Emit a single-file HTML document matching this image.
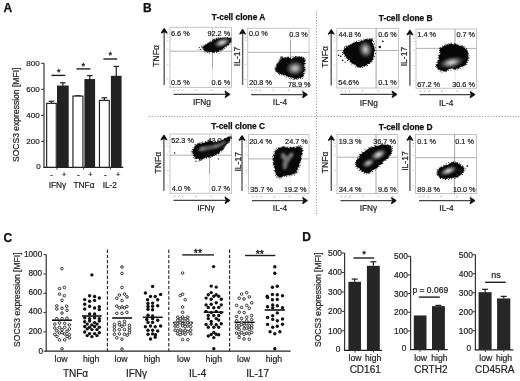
<!DOCTYPE html>
<html><head><meta charset="utf-8"><style>
html,body{margin:0;padding:0;background:#fff;}
body{width:520px;height:381px;overflow:hidden;}
svg{display:block;font-family:"Liberation Sans", sans-serif;filter:grayscale(1);}
</style></head><body>
<svg width="520" height="381" viewBox="0 0 520 381">
<defs><filter id="bl" x="-30%" y="-30%" width="160%" height="160%"><feGaussianBlur stdDeviation="0.9"/></filter><radialGradient id="core"><stop offset="0" stop-color="#cfcfcf"/><stop offset="0.3" stop-color="#9a9a9a"/><stop offset="0.62" stop-color="#4a4a4a" stop-opacity="0.9"/><stop offset="1" stop-color="#1a1a1a" stop-opacity="0"/></radialGradient></defs>
<rect width="520" height="381" fill="#fff"/>
<text x="3.5" y="11.7" font-size="12" text-anchor="start" font-weight="bold" fill="#111" stroke="#111" stroke-width="0.25">A</text>
<line x1="44" y1="63.3" x2="44" y2="167.8" stroke="#333" stroke-width="1.2"/>
<line x1="43.4" y1="167.3" x2="123.3" y2="167.3" stroke="#222" stroke-width="1.2"/>
<text x="40.6" y="169" font-size="8.0" text-anchor="end" fill="#222" stroke="#222" stroke-width="0.2">0</text>
<line x1="41" y1="141.3" x2="44" y2="141.3" stroke="#333" stroke-width="1"/>
<text x="39.6" y="143.9" font-size="8.0" text-anchor="end" fill="#222" stroke="#222" stroke-width="0.2">200</text>
<line x1="41" y1="115.3" x2="44" y2="115.3" stroke="#333" stroke-width="1"/>
<text x="39.6" y="117.9" font-size="8.0" text-anchor="end" fill="#222" stroke="#222" stroke-width="0.2">400</text>
<line x1="41" y1="89.3" x2="44" y2="89.3" stroke="#333" stroke-width="1"/>
<text x="39.6" y="91.9" font-size="8.0" text-anchor="end" fill="#222" stroke="#222" stroke-width="0.2">600</text>
<line x1="41" y1="63.3" x2="44" y2="63.3" stroke="#333" stroke-width="1"/>
<text x="39.6" y="65.9" font-size="8.0" text-anchor="end" fill="#222" stroke="#222" stroke-width="0.2">800</text>
<text x="18.9" y="114.8" font-size="8.55" text-anchor="middle" fill="#222" transform="rotate(-90 18.9 114.8)" stroke="#222" stroke-width="0.2">SOCS3 expression [MFI]</text>
<line x1="51.45" y1="101.26" x2="51.45" y2="103.34" stroke="#1e1e1e" stroke-width="1.2"/>
<line x1="48.65" y1="101.26" x2="54.25" y2="101.26" stroke="#1e1e1e" stroke-width="1.2"/>
<rect x="46.65" y="103.34" width="9.6" height="63.96" fill="#fff" stroke="#1e1e1e" stroke-width="1.15"/>
<line x1="62.85" y1="82.8" x2="62.85" y2="86.05" stroke="#1e1e1e" stroke-width="1.2"/>
<line x1="60.05" y1="82.8" x2="65.65" y2="82.8" stroke="#1e1e1e" stroke-width="1.2"/>
<rect x="57" y="85.55" width="11.7" height="81.75" fill="#222" stroke="none" stroke-width="1"/>
<line x1="77.95" y1="95.8" x2="77.95" y2="96.06" stroke="#1e1e1e" stroke-width="1.2"/>
<line x1="75.15" y1="95.8" x2="80.75" y2="95.8" stroke="#1e1e1e" stroke-width="1.2"/>
<rect x="72.95" y="96.06" width="10" height="71.24" fill="#fff" stroke="#1e1e1e" stroke-width="1.15"/>
<line x1="89.75" y1="75.65" x2="89.75" y2="79.55" stroke="#1e1e1e" stroke-width="1.2"/>
<line x1="86.95" y1="75.65" x2="92.55" y2="75.65" stroke="#1e1e1e" stroke-width="1.2"/>
<rect x="84.4" y="79.05" width="10.7" height="88.25" fill="#222" stroke="none" stroke-width="1"/>
<line x1="104.35" y1="97.75" x2="104.35" y2="100.35" stroke="#1e1e1e" stroke-width="1.2"/>
<line x1="101.55" y1="97.75" x2="107.15" y2="97.75" stroke="#1e1e1e" stroke-width="1.2"/>
<rect x="99.45" y="100.35" width="9.8" height="66.95" fill="#fff" stroke="#1e1e1e" stroke-width="1.15"/>
<line x1="116.25" y1="66.42" x2="116.25" y2="76.3" stroke="#1e1e1e" stroke-width="1.2"/>
<line x1="113.45" y1="66.42" x2="119.05" y2="66.42" stroke="#1e1e1e" stroke-width="1.2"/>
<rect x="110.9" y="75.8" width="10.7" height="91.5" fill="#222" stroke="none" stroke-width="1"/>
<line x1="57" y1="167.3" x2="57" y2="169.7" stroke="#333" stroke-width="0.9"/>
<line x1="83.6" y1="167.3" x2="83.6" y2="169.7" stroke="#333" stroke-width="0.9"/>
<line x1="110.4" y1="167.3" x2="110.4" y2="169.7" stroke="#333" stroke-width="0.9"/>
<line x1="51.4" y1="75.4" x2="65.3" y2="75.4" stroke="#1e1e1e" stroke-width="1.4"/>
<text x="58.7" y="74.5" font-size="9.2" text-anchor="middle" fill="#111" stroke="#111" stroke-width="0.3">*</text>
<line x1="76.4" y1="68.9" x2="90.4" y2="68.9" stroke="#1e1e1e" stroke-width="1.4"/>
<text x="83.2" y="68.8" font-size="9.2" text-anchor="middle" fill="#111" stroke="#111" stroke-width="0.3">*</text>
<line x1="103.4" y1="59" x2="117.2" y2="59" stroke="#1e1e1e" stroke-width="1.4"/>
<text x="110.2" y="58" font-size="9.2" text-anchor="middle" fill="#111" stroke="#111" stroke-width="0.3">*</text>
<text x="51.6" y="176.7" font-size="8.0" text-anchor="middle" fill="#222" stroke="#222" stroke-width="0.2">-</text>
<text x="64.2" y="177.2" font-size="8.0" text-anchor="middle" fill="#222" stroke="#222" stroke-width="0.2">+</text>
<text x="78.4" y="176.7" font-size="8.0" text-anchor="middle" fill="#222" stroke="#222" stroke-width="0.2">-</text>
<text x="90.4" y="177.2" font-size="8.0" text-anchor="middle" fill="#222" stroke="#222" stroke-width="0.2">+</text>
<text x="105.4" y="176.7" font-size="8.0" text-anchor="middle" fill="#222" stroke="#222" stroke-width="0.2">-</text>
<text x="118" y="177.2" font-size="8.0" text-anchor="middle" fill="#222" stroke="#222" stroke-width="0.2">+</text>
<text x="57.4" y="188.2" font-size="8.3" text-anchor="middle" fill="#222" stroke="#222" stroke-width="0.2">IFN&#947;</text>
<text x="84" y="188.2" font-size="8.3" text-anchor="middle" fill="#222" stroke="#222" stroke-width="0.2">TNF&#945;</text>
<text x="109.8" y="188.2" font-size="8.3" text-anchor="middle" fill="#222" stroke="#222" stroke-width="0.2">IL-2</text>
<text x="143.1" y="11.8" font-size="12" text-anchor="start" font-weight="bold" fill="#111" stroke="#111" stroke-width="0.25">B</text>
<line x1="316.5" y1="11.5" x2="316.5" y2="214.6" stroke="#888" stroke-width="0.9" stroke-dasharray="1.2,1.6"/>
<line x1="148.8" y1="116.6" x2="520" y2="116.6" stroke="#888" stroke-width="0.9" stroke-dasharray="1.2,1.6"/>
<text x="238.6" y="20.35" font-size="8.35" text-anchor="middle" font-weight="bold" fill="#111" stroke="#111" stroke-width="0.25">T-cell clone A</text>
<text x="405.7" y="21.2" font-size="8.35" text-anchor="middle" font-weight="bold" fill="#111" stroke="#111" stroke-width="0.25">T-cell clone B</text>
<text x="238.2" y="129" font-size="8.35" text-anchor="middle" font-weight="bold" fill="#111" stroke="#111" stroke-width="0.25">T-cell clone C</text>
<text x="405.7" y="130.4" font-size="8.35" text-anchor="middle" font-weight="bold" fill="#111" stroke="#111" stroke-width="0.25">T-cell clone D</text>
<rect x="170" y="27.3" width="61.5" height="60.1" fill="none" stroke="#c4c4c4" stroke-width="1"/>
<line x1="170" y1="51.2" x2="231.5" y2="51.2" stroke="#a8a8a8" stroke-width="0.9"/>
<line x1="212.5" y1="27.3" x2="212.5" y2="51.2" stroke="#cfcfcf" stroke-width="0.9"/>
<line x1="212.5" y1="51.2" x2="212.5" y2="68" stroke="#9a9a9a" stroke-width="0.9"/>
<line x1="212.5" y1="68" x2="212.5" y2="87.4" stroke="#e2e2e2" stroke-width="0.9"/>
<line x1="164.2" y1="84.9" x2="164.2" y2="30.9" stroke="#5c5c5c" stroke-width="1.4"/>
<path d="M161.5,32.9 L164.2,28.7 L166.9,32.9 L164.2,31.5 Z" fill="#111" stroke="#111" stroke-width="1.3" stroke-linejoin="round"/>
<line x1="173.5" y1="94.4" x2="227.3" y2="94.4" stroke="#444" stroke-width="1.35"/>
<path d="M225.3,91.6 L229.5,94.4 L225.3,97.2 L226.7,94.4 Z" fill="#111" stroke="#111" stroke-width="1.3" stroke-linejoin="round"/>
<text x="158.6" y="55.8" font-size="8.6" text-anchor="middle" fill="#222" transform="rotate(-90 158.6 55.8)" stroke="#222" stroke-width="0.2">TNF&#945;</text>
<text x="202" y="104.9" font-size="8.3" text-anchor="middle" fill="#222" stroke="#222" stroke-width="0.2">IFNg</text>
<line x1="173.8" y1="91.1" x2="175.2" y2="89.7" stroke="#9a9a9a" stroke-width="0.9"/>
<line x1="177.8" y1="91.1" x2="179.2" y2="89.7" stroke="#9a9a9a" stroke-width="0.9"/>
<line x1="182.1" y1="91.1" x2="183.5" y2="89.7" stroke="#9a9a9a" stroke-width="0.9"/>
<line x1="195.1" y1="91.1" x2="196.5" y2="89.7" stroke="#9a9a9a" stroke-width="0.9"/>
<line x1="210.5" y1="91.1" x2="211.9" y2="89.7" stroke="#9a9a9a" stroke-width="0.9"/>
<line x1="224.7" y1="91.1" x2="226.1" y2="89.7" stroke="#9a9a9a" stroke-width="0.9"/>
<line x1="167.2" y1="78.8" x2="168.4" y2="80" stroke="#aaa" stroke-width="0.8"/>
<line x1="167.2" y1="63.8" x2="168.4" y2="65" stroke="#aaa" stroke-width="0.8"/>
<line x1="167.2" y1="48.8" x2="168.4" y2="50" stroke="#aaa" stroke-width="0.8"/>
<line x1="167.2" y1="39.8" x2="168.4" y2="41" stroke="#aaa" stroke-width="0.8"/>
<line x1="167.2" y1="36.8" x2="168.4" y2="38" stroke="#aaa" stroke-width="0.8"/>
<line x1="167.2" y1="33.8" x2="168.4" y2="35" stroke="#aaa" stroke-width="0.8"/>
<text x="171" y="36.3" font-size="7.3" text-anchor="start" fill="#222" stroke="#222" stroke-width="0.2">6.6 %</text>
<text x="230.2" y="36.3" font-size="7.3" text-anchor="end" fill="#222" stroke="#222" stroke-width="0.2">92.2 %</text>
<text x="171" y="84.8" font-size="7.3" text-anchor="start" fill="#222" stroke="#222" stroke-width="0.2">0.5 %</text>
<text x="230.2" y="84.8" font-size="7.3" text-anchor="end" fill="#222" stroke="#222" stroke-width="0.2">0.6 %</text>
<rect x="247.7" y="28.3" width="61.3" height="59.1" fill="none" stroke="#c4c4c4" stroke-width="1"/>
<line x1="247.7" y1="52.4" x2="309" y2="52.4" stroke="#a8a8a8" stroke-width="0.9"/>
<line x1="290.5" y1="28.3" x2="290.5" y2="40" stroke="#e2e2e2" stroke-width="0.9"/>
<line x1="290.5" y1="40" x2="290.5" y2="57" stroke="#9a9a9a" stroke-width="0.9"/>
<line x1="290.5" y1="57" x2="290.5" y2="87.4" stroke="#e2e2e2" stroke-width="0.9"/>
<line x1="242.6" y1="84.9" x2="242.6" y2="31.9" stroke="#5c5c5c" stroke-width="1.4"/>
<path d="M239.9,33.9 L242.6,29.7 L245.3,33.9 L242.6,32.5 Z" fill="#111" stroke="#111" stroke-width="1.3" stroke-linejoin="round"/>
<line x1="251.2" y1="94.6" x2="304.8" y2="94.6" stroke="#444" stroke-width="1.35"/>
<path d="M302.8,91.8 L307.0,94.6 L302.8,97.4 L304.2,94.6 Z" fill="#111" stroke="#111" stroke-width="1.3" stroke-linejoin="round"/>
<text x="239.6" y="56.4" font-size="8.6" text-anchor="middle" fill="#222" transform="rotate(-90 239.6 56.4)" stroke="#222" stroke-width="0.2">IL-17</text>
<text x="280" y="104.9" font-size="8.3" text-anchor="middle" fill="#222" stroke="#222" stroke-width="0.2">IL-4</text>
<line x1="251.5" y1="91.1" x2="252.9" y2="89.7" stroke="#9a9a9a" stroke-width="0.9"/>
<line x1="255.5" y1="91.1" x2="256.9" y2="89.7" stroke="#9a9a9a" stroke-width="0.9"/>
<line x1="259.8" y1="91.1" x2="261.2" y2="89.7" stroke="#9a9a9a" stroke-width="0.9"/>
<line x1="272.8" y1="91.1" x2="274.2" y2="89.7" stroke="#9a9a9a" stroke-width="0.9"/>
<line x1="288.2" y1="91.1" x2="289.6" y2="89.7" stroke="#9a9a9a" stroke-width="0.9"/>
<line x1="302.4" y1="91.1" x2="303.8" y2="89.7" stroke="#9a9a9a" stroke-width="0.9"/>
<line x1="244.9" y1="78.8" x2="246.1" y2="80" stroke="#aaa" stroke-width="0.8"/>
<line x1="244.9" y1="63.8" x2="246.1" y2="65" stroke="#aaa" stroke-width="0.8"/>
<line x1="244.9" y1="48.8" x2="246.1" y2="50" stroke="#aaa" stroke-width="0.8"/>
<line x1="244.9" y1="39.8" x2="246.1" y2="41" stroke="#aaa" stroke-width="0.8"/>
<line x1="244.9" y1="36.8" x2="246.1" y2="38" stroke="#aaa" stroke-width="0.8"/>
<line x1="244.9" y1="33.8" x2="246.1" y2="35" stroke="#aaa" stroke-width="0.8"/>
<text x="249" y="36.3" font-size="7.3" text-anchor="start" fill="#222" stroke="#222" stroke-width="0.2">0.0 %</text>
<text x="307.8" y="37.2" font-size="7.3" text-anchor="end" fill="#222" stroke="#222" stroke-width="0.2">0.3 %</text>
<text x="249.2" y="85.3" font-size="7.3" text-anchor="start" fill="#222" stroke="#222" stroke-width="0.2">20.8 %</text>
<text x="310.6" y="87" font-size="7.3" text-anchor="end" fill="#222" stroke="#222" stroke-width="0.2">78.9 %</text>
<rect x="336.8" y="28.4" width="61.7" height="59.6" fill="none" stroke="#c4c4c4" stroke-width="1"/>
<line x1="336.8" y1="50.5" x2="398.5" y2="50.5" stroke="#a8a8a8" stroke-width="0.9"/>
<line x1="376.1" y1="28.4" x2="376.1" y2="88" stroke="#9a9a9a" stroke-width="0.9"/>
<line x1="331.2" y1="85.5" x2="331.2" y2="32" stroke="#5c5c5c" stroke-width="1.4"/>
<path d="M328.5,34.0 L331.2,29.8 L333.9,34.0 L331.2,32.6 Z" fill="#111" stroke="#111" stroke-width="1.3" stroke-linejoin="round"/>
<line x1="340.3" y1="94.4" x2="394.3" y2="94.4" stroke="#444" stroke-width="1.35"/>
<path d="M392.3,91.6 L396.5,94.4 L392.3,97.2 L393.7,94.4 Z" fill="#111" stroke="#111" stroke-width="1.3" stroke-linejoin="round"/>
<text x="327.9" y="56.9" font-size="8.6" text-anchor="middle" fill="#222" transform="rotate(-90 327.9 56.9)" stroke="#222" stroke-width="0.2">TNF&#945;</text>
<text x="368.8" y="105.8" font-size="8.3" text-anchor="middle" fill="#222" stroke="#222" stroke-width="0.2">IFNg</text>
<line x1="340.6" y1="91.7" x2="342" y2="90.3" stroke="#9a9a9a" stroke-width="0.9"/>
<line x1="344.6" y1="91.7" x2="346" y2="90.3" stroke="#9a9a9a" stroke-width="0.9"/>
<line x1="348.9" y1="91.7" x2="350.3" y2="90.3" stroke="#9a9a9a" stroke-width="0.9"/>
<line x1="361.9" y1="91.7" x2="363.3" y2="90.3" stroke="#9a9a9a" stroke-width="0.9"/>
<line x1="377.3" y1="91.7" x2="378.7" y2="90.3" stroke="#9a9a9a" stroke-width="0.9"/>
<line x1="391.5" y1="91.7" x2="392.9" y2="90.3" stroke="#9a9a9a" stroke-width="0.9"/>
<line x1="334" y1="79.4" x2="335.2" y2="80.6" stroke="#aaa" stroke-width="0.8"/>
<line x1="334" y1="64.4" x2="335.2" y2="65.6" stroke="#aaa" stroke-width="0.8"/>
<line x1="334" y1="49.4" x2="335.2" y2="50.6" stroke="#aaa" stroke-width="0.8"/>
<line x1="334" y1="40.4" x2="335.2" y2="41.6" stroke="#aaa" stroke-width="0.8"/>
<line x1="334" y1="37.4" x2="335.2" y2="38.6" stroke="#aaa" stroke-width="0.8"/>
<line x1="334" y1="34.4" x2="335.2" y2="35.6" stroke="#aaa" stroke-width="0.8"/>
<text x="338.4" y="36.7" font-size="7.3" text-anchor="start" fill="#222" stroke="#222" stroke-width="0.2">44.8 %</text>
<text x="396.8" y="36.7" font-size="7.3" text-anchor="end" fill="#222" stroke="#222" stroke-width="0.2">0.6 %</text>
<text x="338.2" y="85.4" font-size="7.3" text-anchor="start" fill="#222" stroke="#222" stroke-width="0.2">54.6%</text>
<text x="396.8" y="85.4" font-size="7.3" text-anchor="end" fill="#222" stroke="#222" stroke-width="0.2">0.1 %</text>
<rect x="416" y="29.0" width="60.5" height="59.3" fill="none" stroke="#c4c4c4" stroke-width="1"/>
<line x1="416" y1="48.4" x2="476.5" y2="48.4" stroke="#a8a8a8" stroke-width="0.9"/>
<line x1="455" y1="29" x2="455" y2="48.4" stroke="#9a9a9a" stroke-width="0.9"/>
<line x1="455" y1="48.4" x2="455" y2="88.3" stroke="#e2e2e2" stroke-width="0.9"/>
<line x1="409.9" y1="85.8" x2="409.9" y2="32.6" stroke="#5c5c5c" stroke-width="1.4"/>
<path d="M407.2,34.6 L409.9,30.4 L412.6,34.6 L409.9,33.2 Z" fill="#111" stroke="#111" stroke-width="1.3" stroke-linejoin="round"/>
<line x1="419.5" y1="94.6" x2="472.3" y2="94.6" stroke="#444" stroke-width="1.35"/>
<path d="M470.3,91.8 L474.5,94.6 L470.3,97.4 L471.7,94.6 Z" fill="#111" stroke="#111" stroke-width="1.3" stroke-linejoin="round"/>
<text x="407" y="56.5" font-size="8.6" text-anchor="middle" fill="#222" transform="rotate(-90 407 56.5)" stroke="#222" stroke-width="0.2">IL-17</text>
<text x="446.2" y="105.9" font-size="8.3" text-anchor="middle" fill="#222" stroke="#222" stroke-width="0.2">IL-4</text>
<line x1="419.8" y1="92" x2="421.2" y2="90.6" stroke="#9a9a9a" stroke-width="0.9"/>
<line x1="423.8" y1="92" x2="425.2" y2="90.6" stroke="#9a9a9a" stroke-width="0.9"/>
<line x1="428.1" y1="92" x2="429.5" y2="90.6" stroke="#9a9a9a" stroke-width="0.9"/>
<line x1="441.1" y1="92" x2="442.5" y2="90.6" stroke="#9a9a9a" stroke-width="0.9"/>
<line x1="456.5" y1="92" x2="457.9" y2="90.6" stroke="#9a9a9a" stroke-width="0.9"/>
<line x1="470.7" y1="92" x2="472.1" y2="90.6" stroke="#9a9a9a" stroke-width="0.9"/>
<line x1="413.2" y1="79.7" x2="414.4" y2="80.9" stroke="#aaa" stroke-width="0.8"/>
<line x1="413.2" y1="64.7" x2="414.4" y2="65.9" stroke="#aaa" stroke-width="0.8"/>
<line x1="413.2" y1="49.7" x2="414.4" y2="50.9" stroke="#aaa" stroke-width="0.8"/>
<line x1="413.2" y1="40.7" x2="414.4" y2="41.9" stroke="#aaa" stroke-width="0.8"/>
<line x1="413.2" y1="37.7" x2="414.4" y2="38.9" stroke="#aaa" stroke-width="0.8"/>
<line x1="413.2" y1="34.7" x2="414.4" y2="35.9" stroke="#aaa" stroke-width="0.8"/>
<text x="417.3" y="37.2" font-size="7.3" text-anchor="start" fill="#222" stroke="#222" stroke-width="0.2">1.4 %</text>
<text x="475.1" y="37.2" font-size="7.3" text-anchor="end" fill="#222" stroke="#222" stroke-width="0.2">0.7 %</text>
<text x="417.3" y="86.5" font-size="7.3" text-anchor="start" fill="#222" stroke="#222" stroke-width="0.2">67.2 %</text>
<text x="474.9" y="86.5" font-size="7.3" text-anchor="end" fill="#222" stroke="#222" stroke-width="0.2">30.6 %</text>
<rect x="170" y="134.0" width="61.5" height="59.3" fill="none" stroke="#c4c4c4" stroke-width="1"/>
<line x1="170" y1="155.2" x2="231.5" y2="155.2" stroke="#a8a8a8" stroke-width="0.9"/>
<line x1="209.6" y1="134" x2="209.6" y2="155.2" stroke="#e2e2e2" stroke-width="0.9"/>
<line x1="209.6" y1="155.2" x2="209.6" y2="174" stroke="#9a9a9a" stroke-width="0.9"/>
<line x1="209.6" y1="174" x2="209.6" y2="193.3" stroke="#e2e2e2" stroke-width="0.9"/>
<line x1="163.9" y1="190.8" x2="163.9" y2="137.6" stroke="#5c5c5c" stroke-width="1.4"/>
<path d="M161.2,139.6 L163.9,135.4 L166.6,139.6 L163.9,138.2 Z" fill="#111" stroke="#111" stroke-width="1.3" stroke-linejoin="round"/>
<line x1="173.5" y1="200.4" x2="227.3" y2="200.4" stroke="#444" stroke-width="1.35"/>
<path d="M225.3,197.6 L229.5,200.4 L225.3,203.2 L226.7,200.4 Z" fill="#111" stroke="#111" stroke-width="1.3" stroke-linejoin="round"/>
<text x="160.6" y="162.6" font-size="8.6" text-anchor="middle" fill="#222" transform="rotate(-90 160.6 162.6)" stroke="#222" stroke-width="0.2">TNF&#945;</text>
<text x="206" y="210.6" font-size="8.3" text-anchor="middle" fill="#222" stroke="#222" stroke-width="0.2">IFN&#947;</text>
<line x1="173.8" y1="197" x2="175.2" y2="195.6" stroke="#9a9a9a" stroke-width="0.9"/>
<line x1="177.8" y1="197" x2="179.2" y2="195.6" stroke="#9a9a9a" stroke-width="0.9"/>
<line x1="182.1" y1="197" x2="183.5" y2="195.6" stroke="#9a9a9a" stroke-width="0.9"/>
<line x1="195.1" y1="197" x2="196.5" y2="195.6" stroke="#9a9a9a" stroke-width="0.9"/>
<line x1="210.5" y1="197" x2="211.9" y2="195.6" stroke="#9a9a9a" stroke-width="0.9"/>
<line x1="224.7" y1="197" x2="226.1" y2="195.6" stroke="#9a9a9a" stroke-width="0.9"/>
<line x1="167.2" y1="184.7" x2="168.4" y2="185.9" stroke="#aaa" stroke-width="0.8"/>
<line x1="167.2" y1="169.7" x2="168.4" y2="170.9" stroke="#aaa" stroke-width="0.8"/>
<line x1="167.2" y1="154.7" x2="168.4" y2="155.9" stroke="#aaa" stroke-width="0.8"/>
<line x1="167.2" y1="145.7" x2="168.4" y2="146.9" stroke="#aaa" stroke-width="0.8"/>
<line x1="167.2" y1="142.7" x2="168.4" y2="143.9" stroke="#aaa" stroke-width="0.8"/>
<line x1="167.2" y1="139.7" x2="168.4" y2="140.9" stroke="#aaa" stroke-width="0.8"/>
<text x="171.2" y="142.7" font-size="7.3" text-anchor="start" fill="#222" stroke="#222" stroke-width="0.2">52.3 %</text>
<text x="230.2" y="142.7" font-size="7.3" text-anchor="end" fill="#222" stroke="#222" stroke-width="0.2">43.0 %</text>
<text x="171.8" y="191.3" font-size="7.3" text-anchor="start" fill="#222" stroke="#222" stroke-width="0.2">4.0 %</text>
<text x="230.1" y="191.3" font-size="7.3" text-anchor="end" fill="#222" stroke="#222" stroke-width="0.2">0.7 %</text>
<rect x="248.5" y="134.5" width="60.5" height="59.0" fill="none" stroke="#c4c4c4" stroke-width="1"/>
<line x1="248.5" y1="158.9" x2="309" y2="158.9" stroke="#a8a8a8" stroke-width="0.9"/>
<line x1="290" y1="134.5" x2="290" y2="193.5" stroke="#e6e6e6" stroke-width="0.9"/>
<line x1="242" y1="191" x2="242" y2="138.1" stroke="#5c5c5c" stroke-width="1.4"/>
<path d="M239.3,140.1 L242.0,135.9 L244.7,140.1 L242.0,138.7 Z" fill="#111" stroke="#111" stroke-width="1.3" stroke-linejoin="round"/>
<line x1="252" y1="200.6" x2="304.8" y2="200.6" stroke="#444" stroke-width="1.35"/>
<path d="M302.8,197.8 L307.0,200.6 L302.8,203.4 L304.2,200.6 Z" fill="#111" stroke="#111" stroke-width="1.3" stroke-linejoin="round"/>
<text x="240.6" y="161.8" font-size="8.6" text-anchor="middle" fill="#222" transform="rotate(-90 240.6 161.8)" stroke="#222" stroke-width="0.2">IL-17</text>
<text x="280" y="210.6" font-size="8.3" text-anchor="middle" fill="#222" stroke="#222" stroke-width="0.2">IL-4</text>
<line x1="252.3" y1="197.2" x2="253.7" y2="195.8" stroke="#9a9a9a" stroke-width="0.9"/>
<line x1="256.3" y1="197.2" x2="257.7" y2="195.8" stroke="#9a9a9a" stroke-width="0.9"/>
<line x1="260.6" y1="197.2" x2="262" y2="195.8" stroke="#9a9a9a" stroke-width="0.9"/>
<line x1="273.6" y1="197.2" x2="275" y2="195.8" stroke="#9a9a9a" stroke-width="0.9"/>
<line x1="289" y1="197.2" x2="290.4" y2="195.8" stroke="#9a9a9a" stroke-width="0.9"/>
<line x1="303.2" y1="197.2" x2="304.6" y2="195.8" stroke="#9a9a9a" stroke-width="0.9"/>
<line x1="245.7" y1="184.9" x2="246.9" y2="186.1" stroke="#aaa" stroke-width="0.8"/>
<line x1="245.7" y1="169.9" x2="246.9" y2="171.1" stroke="#aaa" stroke-width="0.8"/>
<line x1="245.7" y1="154.9" x2="246.9" y2="156.1" stroke="#aaa" stroke-width="0.8"/>
<line x1="245.7" y1="145.9" x2="246.9" y2="147.1" stroke="#aaa" stroke-width="0.8"/>
<line x1="245.7" y1="142.9" x2="246.9" y2="144.1" stroke="#aaa" stroke-width="0.8"/>
<line x1="245.7" y1="139.9" x2="246.9" y2="141.1" stroke="#aaa" stroke-width="0.8"/>
<text x="249.2" y="143.5" font-size="7.3" text-anchor="start" fill="#222" stroke="#222" stroke-width="0.2">20.4 %</text>
<text x="307.8" y="143.5" font-size="7.3" text-anchor="end" fill="#222" stroke="#222" stroke-width="0.2">24.7 %</text>
<text x="250.3" y="192.2" font-size="7.3" text-anchor="start" fill="#222" stroke="#222" stroke-width="0.2">35.7 %</text>
<text x="306.6" y="192.2" font-size="7.3" text-anchor="end" fill="#222" stroke="#222" stroke-width="0.2">19.2 %</text>
<rect x="337" y="134.5" width="60.8" height="59.0" fill="none" stroke="#c4c4c4" stroke-width="1"/>
<line x1="337" y1="157.2" x2="397.8" y2="157.2" stroke="#a8a8a8" stroke-width="0.9"/>
<line x1="376" y1="134.5" x2="376" y2="193.5" stroke="#9a9a9a" stroke-width="0.9"/>
<line x1="331.3" y1="191" x2="331.3" y2="138.1" stroke="#5c5c5c" stroke-width="1.4"/>
<path d="M328.6,140.1 L331.3,135.9 L334.0,140.1 L331.3,138.7 Z" fill="#111" stroke="#111" stroke-width="1.3" stroke-linejoin="round"/>
<line x1="340.5" y1="200.6" x2="393.6" y2="200.6" stroke="#444" stroke-width="1.35"/>
<path d="M391.6,197.8 L395.8,200.6 L391.6,203.4 L393.0,200.6 Z" fill="#111" stroke="#111" stroke-width="1.3" stroke-linejoin="round"/>
<text x="328" y="162.3" font-size="8.6" text-anchor="middle" fill="#222" transform="rotate(-90 328 162.3)" stroke="#222" stroke-width="0.2">TNF&#945;</text>
<text x="368.5" y="210.8" font-size="8.3" text-anchor="middle" fill="#222" stroke="#222" stroke-width="0.2">IFN&#947;</text>
<line x1="340.8" y1="197.2" x2="342.2" y2="195.8" stroke="#9a9a9a" stroke-width="0.9"/>
<line x1="344.8" y1="197.2" x2="346.2" y2="195.8" stroke="#9a9a9a" stroke-width="0.9"/>
<line x1="349.1" y1="197.2" x2="350.5" y2="195.8" stroke="#9a9a9a" stroke-width="0.9"/>
<line x1="362.1" y1="197.2" x2="363.5" y2="195.8" stroke="#9a9a9a" stroke-width="0.9"/>
<line x1="377.5" y1="197.2" x2="378.9" y2="195.8" stroke="#9a9a9a" stroke-width="0.9"/>
<line x1="391.7" y1="197.2" x2="393.1" y2="195.8" stroke="#9a9a9a" stroke-width="0.9"/>
<line x1="334.2" y1="184.9" x2="335.4" y2="186.1" stroke="#aaa" stroke-width="0.8"/>
<line x1="334.2" y1="169.9" x2="335.4" y2="171.1" stroke="#aaa" stroke-width="0.8"/>
<line x1="334.2" y1="154.9" x2="335.4" y2="156.1" stroke="#aaa" stroke-width="0.8"/>
<line x1="334.2" y1="145.9" x2="335.4" y2="147.1" stroke="#aaa" stroke-width="0.8"/>
<line x1="334.2" y1="142.9" x2="335.4" y2="144.1" stroke="#aaa" stroke-width="0.8"/>
<line x1="334.2" y1="139.9" x2="335.4" y2="141.1" stroke="#aaa" stroke-width="0.8"/>
<text x="338.8" y="143.5" font-size="7.3" text-anchor="start" fill="#222" stroke="#222" stroke-width="0.2">19.3 %</text>
<text x="395.9" y="143.5" font-size="7.3" text-anchor="end" fill="#222" stroke="#222" stroke-width="0.2">36.7 %</text>
<text x="338.8" y="191.8" font-size="7.3" text-anchor="start" fill="#222" stroke="#222" stroke-width="0.2">34.4 %</text>
<text x="396.6" y="191.8" font-size="7.3" text-anchor="end" fill="#222" stroke="#222" stroke-width="0.2">9.6 %</text>
<rect x="415.5" y="134.5" width="61.0" height="59.0" fill="none" stroke="#c4c4c4" stroke-width="1"/>
<line x1="415.5" y1="157.7" x2="476.5" y2="157.7" stroke="#a8a8a8" stroke-width="0.9"/>
<line x1="454.6" y1="134.5" x2="454.6" y2="193.5" stroke="#9a9a9a" stroke-width="0.9"/>
<line x1="409.9" y1="191" x2="409.9" y2="138.1" stroke="#5c5c5c" stroke-width="1.4"/>
<path d="M407.2,140.1 L409.9,135.9 L412.6,140.1 L409.9,138.7 Z" fill="#111" stroke="#111" stroke-width="1.3" stroke-linejoin="round"/>
<line x1="419" y1="200.6" x2="472.3" y2="200.6" stroke="#444" stroke-width="1.35"/>
<path d="M470.3,197.8 L474.5,200.6 L470.3,203.4 L471.7,200.6 Z" fill="#111" stroke="#111" stroke-width="1.3" stroke-linejoin="round"/>
<text x="408.4" y="161" font-size="8.6" text-anchor="middle" fill="#222" transform="rotate(-90 408.4 161)" stroke="#222" stroke-width="0.2">IL-17</text>
<text x="446.5" y="210.8" font-size="8.3" text-anchor="middle" fill="#222" stroke="#222" stroke-width="0.2">IL-4</text>
<line x1="419.3" y1="197.2" x2="420.7" y2="195.8" stroke="#9a9a9a" stroke-width="0.9"/>
<line x1="423.3" y1="197.2" x2="424.7" y2="195.8" stroke="#9a9a9a" stroke-width="0.9"/>
<line x1="427.6" y1="197.2" x2="429" y2="195.8" stroke="#9a9a9a" stroke-width="0.9"/>
<line x1="440.6" y1="197.2" x2="442" y2="195.8" stroke="#9a9a9a" stroke-width="0.9"/>
<line x1="456" y1="197.2" x2="457.4" y2="195.8" stroke="#9a9a9a" stroke-width="0.9"/>
<line x1="470.2" y1="197.2" x2="471.6" y2="195.8" stroke="#9a9a9a" stroke-width="0.9"/>
<line x1="412.7" y1="184.9" x2="413.9" y2="186.1" stroke="#aaa" stroke-width="0.8"/>
<line x1="412.7" y1="169.9" x2="413.9" y2="171.1" stroke="#aaa" stroke-width="0.8"/>
<line x1="412.7" y1="154.9" x2="413.9" y2="156.1" stroke="#aaa" stroke-width="0.8"/>
<line x1="412.7" y1="145.9" x2="413.9" y2="147.1" stroke="#aaa" stroke-width="0.8"/>
<line x1="412.7" y1="142.9" x2="413.9" y2="144.1" stroke="#aaa" stroke-width="0.8"/>
<line x1="412.7" y1="139.9" x2="413.9" y2="141.1" stroke="#aaa" stroke-width="0.8"/>
<text x="417.3" y="143.8" font-size="7.3" text-anchor="start" fill="#222" stroke="#222" stroke-width="0.2">0.1 %</text>
<text x="473.9" y="143.8" font-size="7.3" text-anchor="end" fill="#222" stroke="#222" stroke-width="0.2">0.1 %</text>
<text x="417.3" y="192.2" font-size="7.3" text-anchor="start" fill="#222" stroke="#222" stroke-width="0.2">89.8 %</text>
<text x="475.6" y="192.2" font-size="7.3" text-anchor="end" fill="#222" stroke="#222" stroke-width="0.2">10.0 %</text>
<path d="M203.08,46.95 L203.46,46.57 L202.90,46.40 L204.13,46.02 L203.77,45.87 L204.45,45.62 L205.34,45.37 L204.99,45.20 L206.08,44.95 L205.80,44.77 L206.74,44.58 L207.07,44.40 L206.90,44.21 L206.62,43.98 L208.10,43.85 L208.29,43.63 L208.00,43.34 L207.84,43.03 L208.77,42.90 L209.41,42.73 L208.89,42.24 L210.69,42.44 L209.87,41.71 L211.12,41.79 L211.74,41.64 L212.19,41.40 L212.36,40.95 L212.21,40.11 L213.33,40.59 L213.34,39.83 L213.71,39.49 L214.32,39.61 L214.62,39.12 L215.27,39.64 L215.66,39.46 L216.05,39.07 L216.50,38.18 L217.03,38.48 L217.55,38.58 L218.19,38.10 L218.73,38.25 L219.24,38.44 L220.22,37.68 L220.82,37.79 L221.08,38.37 L222.09,37.93 L222.75,37.99 L223.89,37.59 L224.49,37.77 L224.73,38.21 L226.50,37.53 L226.35,38.25 L227.79,37.93 L229.27,37.62 L229.35,38.07 L230.61,37.88 L230.53,38.30 L231.60,38.12 L231.60,38.37 L231.60,38.85 L231.60,39.08 L231.22,39.79 L231.60,40.02 L231.35,40.46 L231.18,40.84 L230.81,41.26 L231.19,41.51 L231.11,41.88 L230.09,42.40 L230.09,42.76 L228.80,43.27 L229.47,43.60 L229.00,44.04 L229.14,44.49 L228.43,44.96 L227.12,45.36 L226.81,45.82 L226.77,46.35 L225.25,46.59 L225.41,47.26 L224.43,47.59 L223.82,48.02 L223.19,48.41 L223.55,49.46 L222.15,49.21 L221.70,49.64 L221.24,50.09 L221.03,50.97 L219.72,50.11 L219.33,50.84 L218.71,51.18 L218.12,51.90 L217.35,52.00 L216.59,52.25 L215.92,51.48 L215.19,51.85 L214.50,51.90 L213.50,52.79 L212.69,52.96 L212.55,51.87 L211.81,51.97 L211.04,52.09 L210.31,52.10 L209.34,52.37 L208.53,52.42 L208.28,51.95 L208.02,51.54 L206.94,51.75 L206.47,51.47 L205.71,51.36 L204.70,51.36 L204.62,50.80 L204.48,50.31 L203.96,49.96 L203.51,49.52 L204.12,48.68 L202.55,48.56 L202.51,47.98 L202.24,47.53 Z" fill="#080808"/>
<rect x="201.45" y="46.71" width="0.9" height="0.9" fill="#111"/>
<rect x="202.46" y="45.72" width="0.9" height="0.9" fill="#111"/>
<rect x="203.63" y="45.01" width="0.9" height="0.9" fill="#111"/>
<rect x="204.95" y="44.33" width="0.9" height="0.9" fill="#111"/>
<rect x="205.56" y="43.73" width="0.9" height="0.9" fill="#111"/>
<rect x="207.15" y="43.11" width="0.9" height="0.9" fill="#111"/>
<rect x="208.19" y="42.42" width="0.9" height="0.9" fill="#111"/>
<rect x="209.18" y="41.62" width="0.9" height="0.9" fill="#111"/>
<rect x="210.50" y="40.73" width="0.9" height="0.9" fill="#111"/>
<rect x="211.76" y="39.66" width="0.9" height="0.9" fill="#111"/>
<rect x="213.25" y="39.02" width="0.9" height="0.9" fill="#111"/>
<rect x="214.56" y="38.32" width="0.9" height="0.9" fill="#111"/>
<rect x="216.05" y="37.68" width="0.9" height="0.9" fill="#111"/>
<rect x="217.78" y="37.49" width="0.9" height="0.9" fill="#111"/>
<rect x="219.79" y="37.18" width="0.9" height="0.9" fill="#111"/>
<rect x="221.70" y="37.40" width="0.9" height="0.9" fill="#111"/>
<rect x="224.51" y="36.91" width="0.9" height="0.9" fill="#111"/>
<rect x="227.05" y="37.06" width="0.9" height="0.9" fill="#111"/>
<rect x="229.69" y="37.21" width="0.9" height="0.9" fill="#111"/>
<rect x="230.51" y="41.11" width="0.9" height="0.9" fill="#111"/>
<rect x="230.33" y="42.22" width="0.9" height="0.9" fill="#111"/>
<rect x="229.41" y="43.56" width="0.9" height="0.9" fill="#111"/>
<rect x="227.63" y="44.99" width="0.9" height="0.9" fill="#111"/>
<rect x="226.16" y="46.47" width="0.9" height="0.9" fill="#111"/>
<rect x="224.17" y="47.96" width="0.9" height="0.9" fill="#111"/>
<rect x="222.37" y="49.34" width="0.9" height="0.9" fill="#111"/>
<rect x="220.53" y="50.45" width="0.9" height="0.9" fill="#111"/>
<rect x="218.36" y="51.08" width="0.9" height="0.9" fill="#111"/>
<rect x="216.14" y="52.16" width="0.9" height="0.9" fill="#111"/>
<rect x="213.89" y="52.00" width="0.9" height="0.9" fill="#111"/>
<rect x="211.71" y="52.10" width="0.9" height="0.9" fill="#111"/>
<rect x="208.91" y="52.78" width="0.9" height="0.9" fill="#111"/>
<rect x="207.04" y="52.20" width="0.9" height="0.9" fill="#111"/>
<rect x="205.58" y="51.32" width="0.9" height="0.9" fill="#111"/>
<rect x="203.83" y="50.53" width="0.9" height="0.9" fill="#111"/>
<rect x="203.11" y="49.04" width="0.9" height="0.9" fill="#111"/>
<rect x="201.84" y="47.58" width="0.9" height="0.9" fill="#111"/>
<ellipse cx="222.0" cy="42.6" rx="10" ry="5.2" transform="rotate(-20 222.0 42.6)" fill="url(#core)" opacity="1.0"/>
<circle cx="199.5" cy="47.6" r="0.55" fill="#111"/>
<circle cx="200.6" cy="49.4" r="0.55" fill="#111"/>
<circle cx="201.6" cy="46.0" r="0.5" fill="#111"/>
<circle cx="198.8" cy="49.6" r="0.45" fill="#111"/>
<circle cx="219" cy="53.3" r="0.45" fill="#111"/>
<circle cx="205" cy="52.6" r="0.45" fill="#111"/>
<path d="M281.07,56.75 L281.54,56.85 L282.15,57.11 L283.09,57.77 L283.49,57.80 L284.21,58.22 L284.15,57.58 L284.87,57.96 L285.14,57.62 L285.96,58.21 L286.49,58.31 L286.56,57.38 L286.95,57.05 L287.53,57.18 L288.07,57.23 L288.60,57.22 L289.17,57.39 L289.81,58.27 L290.30,57.88 L290.83,58.20 L291.31,58.76 L291.79,58.75 L292.35,58.30 L292.85,58.24 L293.58,57.46 L294.26,56.95 L294.48,57.58 L295.32,56.76 L295.86,56.61 L296.31,56.58 L296.25,57.31 L296.51,57.42 L296.90,57.33 L297.27,57.31 L297.72,57.27 L298.63,56.75 L299.50,56.46 L300.11,56.61 L300.40,57.11 L301.31,57.03 L302.16,57.03 L301.87,57.91 L303.11,57.55 L303.85,57.55 L304.04,57.90 L304.30,58.18 L304.18,58.70 L303.96,59.27 L304.99,59.21 L304.46,60.01 L305.20,60.29 L305.45,60.88 L304.53,61.95 L304.44,62.73 L305.20,63.32 L304.78,64.20 L303.88,65.06 L303.83,65.75 L303.92,66.42 L305.21,67.14 L305.13,67.85 L304.14,68.41 L305.24,69.25 L305.45,69.97 L304.86,70.49 L304.27,70.96 L304.42,71.66 L303.63,71.99 L303.28,72.46 L304.46,73.69 L303.81,74.02 L303.46,74.49 L303.84,75.43 L303.01,75.56 L303.38,76.55 L303.09,77.02 L302.08,76.83 L301.81,77.23 L301.47,77.53 L300.97,77.64 L300.84,78.17 L299.97,77.84 L299.58,78.09 L298.73,77.76 L298.87,78.84 L297.77,78.18 L297.22,78.40 L296.65,78.66 L296.17,79.19 L295.20,78.51 L294.81,79.27 L294.00,78.60 L293.45,78.57 L292.92,78.43 L292.28,77.48 L291.89,77.97 L291.37,77.37 L290.89,76.89 L290.39,77.98 L289.91,76.79 L289.36,77.08 L288.76,77.28 L288.27,76.81 L287.84,76.25 L287.22,76.34 L286.67,76.18 L285.97,76.30 L285.94,75.11 L285.06,75.53 L284.81,74.89 L284.27,74.72 L283.24,75.12 L282.99,74.61 L282.40,74.50 L281.64,74.58 L280.91,74.60 L280.97,74.00 L280.24,74.02 L279.87,73.74 L279.38,73.51 L278.66,73.36 L278.51,72.84 L277.92,72.53 L277.55,72.10 L276.44,71.96 L276.42,71.40 L275.82,71.08 L275.43,70.69 L276.24,70.03 L275.55,69.74 L274.77,69.44 L274.81,68.98 L275.86,68.39 L275.90,67.94 L275.49,67.50 L276.27,66.96 L276.26,66.43 L276.82,65.91 L276.19,65.30 L276.34,64.74 L276.47,64.19 L277.95,63.95 L277.41,63.31 L277.85,62.90 L278.99,62.74 L278.22,61.95 L278.42,61.49 L279.81,61.59 L279.01,60.71 L280.03,60.76 L280.11,60.36 L279.63,59.60 L280.03,59.40 L281.08,59.71 L280.89,59.17 L280.90,58.78 L281.20,58.64 L281.42,58.48 L281.33,58.07 L280.95,57.37 L281.91,57.96 Z" fill="#080808"/>
<rect x="280.66" y="56.35" width="0.9" height="0.9" fill="#111"/>
<rect x="282.00" y="56.57" width="0.9" height="0.9" fill="#111"/>
<rect x="283.83" y="57.30" width="0.9" height="0.9" fill="#111"/>
<rect x="285.14" y="57.08" width="0.9" height="0.9" fill="#111"/>
<rect x="286.51" y="56.61" width="0.9" height="0.9" fill="#111"/>
<rect x="288.12" y="56.62" width="0.9" height="0.9" fill="#111"/>
<rect x="289.84" y="57.20" width="0.9" height="0.9" fill="#111"/>
<rect x="291.61" y="56.48" width="0.9" height="0.9" fill="#111"/>
<rect x="293.31" y="56.44" width="0.9" height="0.9" fill="#111"/>
<rect x="295.03" y="55.97" width="0.9" height="0.9" fill="#111"/>
<rect x="296.06" y="56.43" width="0.9" height="0.9" fill="#111"/>
<rect x="297.36" y="56.11" width="0.9" height="0.9" fill="#111"/>
<rect x="298.78" y="56.31" width="0.9" height="0.9" fill="#111"/>
<rect x="301.35" y="56.15" width="0.9" height="0.9" fill="#111"/>
<rect x="302.81" y="56.99" width="0.9" height="0.9" fill="#111"/>
<rect x="303.78" y="57.78" width="0.9" height="0.9" fill="#111"/>
<rect x="304.64" y="58.71" width="0.9" height="0.9" fill="#111"/>
<rect x="305.25" y="60.34" width="0.9" height="0.9" fill="#111"/>
<rect x="304.97" y="62.83" width="0.9" height="0.9" fill="#111"/>
<rect x="304.41" y="65.23" width="0.9" height="0.9" fill="#111"/>
<rect x="304.52" y="67.39" width="0.9" height="0.9" fill="#111"/>
<rect x="305.25" y="69.58" width="0.9" height="0.9" fill="#111"/>
<rect x="304.57" y="71.43" width="0.9" height="0.9" fill="#111"/>
<rect x="304.08" y="73.28" width="0.9" height="0.9" fill="#111"/>
<rect x="303.04" y="74.75" width="0.9" height="0.9" fill="#111"/>
<rect x="302.44" y="76.40" width="0.9" height="0.9" fill="#111"/>
<rect x="301.83" y="77.90" width="0.9" height="0.9" fill="#111"/>
<rect x="300.14" y="78.14" width="0.9" height="0.9" fill="#111"/>
<rect x="298.20" y="78.07" width="0.9" height="0.9" fill="#111"/>
<rect x="296.60" y="79.02" width="0.9" height="0.9" fill="#111"/>
<rect x="294.40" y="78.92" width="0.9" height="0.9" fill="#111"/>
<rect x="292.63" y="78.85" width="0.9" height="0.9" fill="#111"/>
<rect x="290.98" y="77.70" width="0.9" height="0.9" fill="#111"/>
<rect x="289.36" y="77.83" width="0.9" height="0.9" fill="#111"/>
<rect x="287.78" y="76.53" width="0.9" height="0.9" fill="#111"/>
<rect x="285.88" y="76.55" width="0.9" height="0.9" fill="#111"/>
<rect x="284.34" y="75.51" width="0.9" height="0.9" fill="#111"/>
<rect x="282.74" y="74.73" width="0.9" height="0.9" fill="#111"/>
<rect x="280.98" y="74.31" width="0.9" height="0.9" fill="#111"/>
<rect x="279.09" y="74.06" width="0.9" height="0.9" fill="#111"/>
<rect x="278.09" y="72.98" width="0.9" height="0.9" fill="#111"/>
<rect x="276.78" y="71.79" width="0.9" height="0.9" fill="#111"/>
<rect x="275.30" y="70.65" width="0.9" height="0.9" fill="#111"/>
<rect x="274.79" y="69.36" width="0.9" height="0.9" fill="#111"/>
<rect x="274.54" y="68.05" width="0.9" height="0.9" fill="#111"/>
<rect x="274.79" y="66.54" width="0.9" height="0.9" fill="#111"/>
<rect x="275.77" y="64.85" width="0.9" height="0.9" fill="#111"/>
<rect x="276.59" y="63.31" width="0.9" height="0.9" fill="#111"/>
<rect x="277.54" y="61.96" width="0.9" height="0.9" fill="#111"/>
<rect x="278.52" y="60.75" width="0.9" height="0.9" fill="#111"/>
<rect x="278.88" y="59.45" width="0.9" height="0.9" fill="#111"/>
<rect x="279.82" y="58.68" width="0.9" height="0.9" fill="#111"/>
<rect x="280.05" y="57.61" width="0.9" height="0.9" fill="#111"/>
<rect x="280.50" y="56.92" width="0.9" height="0.9" fill="#111"/>
<ellipse cx="295.0" cy="68.3" rx="10.5" ry="8.5" transform="rotate(-5 295.0 68.3)" fill="url(#core)" opacity="0.95"/>
<path d="M346.13,47.08 L346.84,47.08 L346.68,46.83 L347.22,46.90 L346.35,46.40 L346.86,46.44 L347.68,46.57 L347.64,46.22 L347.44,45.65 L349.14,46.01 L348.75,45.12 L349.90,45.13 L350.48,44.74 L350.74,44.05 L351.92,44.22 L352.46,43.79 L352.99,43.24 L353.48,42.52 L354.72,43.10 L355.14,42.08 L355.97,41.96 L356.75,41.79 L357.53,41.88 L358.22,41.71 L358.91,41.93 L359.57,41.56 L360.25,41.42 L361.15,40.13 L361.81,40.68 L362.64,40.60 L363.55,40.49 L365.07,39.18 L366.16,38.97 L367.03,39.09 L367.60,39.47 L368.35,39.43 L369.07,39.29 L369.85,39.04 L370.06,39.37 L370.84,39.04 L371.05,39.32 L372.20,38.66 L372.55,38.88 L372.29,39.64 L372.06,40.32 L373.01,39.99 L372.24,41.14 L372.34,41.64 L371.97,42.57 L372.64,42.90 L373.07,43.60 L373.52,44.47 L373.53,45.63 L374.44,46.45 L374.08,47.69 L374.78,48.59 L374.65,49.59 L375.12,50.48 L374.41,51.45 L374.14,52.38 L374.29,53.35 L373.85,54.27 L374.05,55.32 L373.64,56.21 L373.69,57.25 L373.27,58.12 L373.07,59.08 L372.97,60.10 L371.94,60.52 L371.42,61.23 L371.69,62.61 L370.03,62.34 L369.88,63.57 L368.90,64.01 L367.43,63.70 L367.20,65.19 L366.31,65.69 L365.28,65.69 L364.57,66.20 L363.86,66.66 L362.85,65.92 L362.30,66.77 L361.60,66.94 L360.97,67.59 L360.24,67.59 L359.49,67.58 L358.75,67.06 L357.97,67.36 L357.25,66.77 L356.52,66.49 L355.97,65.43 L355.40,64.78 L354.75,64.56 L354.02,64.48 L353.61,63.64 L352.51,64.18 L352.13,63.26 L351.48,62.81 L350.88,62.26 L350.20,61.76 L349.79,60.95 L349.76,59.83 L348.17,60.03 L347.61,59.34 L347.35,58.51 L346.75,57.93 L346.00,57.40 L346.30,56.46 L344.71,56.21 L344.90,55.40 L344.71,54.76 L344.03,54.24 L343.04,53.75 L343.76,53.04 L342.91,52.47 L342.64,51.82 L343.58,51.18 L343.97,50.59 L344.04,50.01 L343.91,49.46 L343.98,48.96 L344.44,48.57 L344.64,48.17 L345.78,48.04 L345.93,47.70 L346.02,47.38 Z" fill="#080808"/>
<rect x="344.63" y="46.26" width="0.9" height="0.9" fill="#111"/>
<rect x="345.61" y="45.98" width="0.9" height="0.9" fill="#111"/>
<rect x="346.13" y="45.63" width="0.9" height="0.9" fill="#111"/>
<rect x="347.96" y="45.14" width="0.9" height="0.9" fill="#111"/>
<rect x="349.82" y="44.13" width="0.9" height="0.9" fill="#111"/>
<rect x="351.74" y="43.01" width="0.9" height="0.9" fill="#111"/>
<rect x="353.79" y="41.70" width="0.9" height="0.9" fill="#111"/>
<rect x="356.16" y="40.75" width="0.9" height="0.9" fill="#111"/>
<rect x="358.43" y="39.96" width="0.9" height="0.9" fill="#111"/>
<rect x="360.72" y="39.61" width="0.9" height="0.9" fill="#111"/>
<rect x="363.59" y="38.81" width="0.9" height="0.9" fill="#111"/>
<rect x="366.76" y="38.35" width="0.9" height="0.9" fill="#111"/>
<rect x="369.22" y="38.10" width="0.9" height="0.9" fill="#111"/>
<rect x="370.66" y="38.30" width="0.9" height="0.9" fill="#111"/>
<rect x="372.28" y="38.26" width="0.9" height="0.9" fill="#111"/>
<rect x="372.28" y="39.77" width="0.9" height="0.9" fill="#111"/>
<rect x="373.05" y="41.04" width="0.9" height="0.9" fill="#111"/>
<rect x="374.00" y="43.56" width="0.9" height="0.9" fill="#111"/>
<rect x="374.60" y="46.98" width="0.9" height="0.9" fill="#111"/>
<rect x="375.45" y="49.97" width="0.9" height="0.9" fill="#111"/>
<rect x="375.09" y="53.04" width="0.9" height="0.9" fill="#111"/>
<rect x="374.17" y="56.07" width="0.9" height="0.9" fill="#111"/>
<rect x="372.85" y="58.75" width="0.9" height="0.9" fill="#111"/>
<rect x="371.54" y="61.22" width="0.9" height="0.9" fill="#111"/>
<rect x="369.45" y="63.14" width="0.9" height="0.9" fill="#111"/>
<rect x="367.01" y="65.18" width="0.9" height="0.9" fill="#111"/>
<rect x="364.13" y="65.77" width="0.9" height="0.9" fill="#111"/>
<rect x="362.00" y="66.99" width="0.9" height="0.9" fill="#111"/>
<rect x="359.77" y="66.98" width="0.9" height="0.9" fill="#111"/>
<rect x="357.52" y="66.95" width="0.9" height="0.9" fill="#111"/>
<rect x="355.19" y="66.43" width="0.9" height="0.9" fill="#111"/>
<rect x="353.37" y="64.53" width="0.9" height="0.9" fill="#111"/>
<rect x="351.24" y="63.54" width="0.9" height="0.9" fill="#111"/>
<rect x="349.51" y="61.59" width="0.9" height="0.9" fill="#111"/>
<rect x="347.30" y="59.90" width="0.9" height="0.9" fill="#111"/>
<rect x="345.61" y="57.83" width="0.9" height="0.9" fill="#111"/>
<rect x="344.23" y="55.77" width="0.9" height="0.9" fill="#111"/>
<rect x="342.21" y="54.02" width="0.9" height="0.9" fill="#111"/>
<rect x="342.21" y="52.03" width="0.9" height="0.9" fill="#111"/>
<rect x="343.11" y="50.11" width="0.9" height="0.9" fill="#111"/>
<rect x="343.75" y="48.55" width="0.9" height="0.9" fill="#111"/>
<rect x="344.05" y="47.24" width="0.9" height="0.9" fill="#111"/>
<ellipse cx="365.5" cy="49.5" rx="8" ry="10" transform="rotate(-10 365.5 49.5)" fill="url(#core)" opacity="0.95"/>
<circle cx="338.6" cy="55.2" r="0.8" fill="#111"/>
<circle cx="340.8" cy="56.3" r="0.8" fill="#111"/>
<circle cx="342.6" cy="60.4" r="0.8" fill="#111"/>
<circle cx="347.6" cy="60.6" r="0.7" fill="#111"/>
<circle cx="379.8" cy="47.0" r="1.25" fill="#111"/>
<circle cx="382.9" cy="41.3" r="0.85" fill="#111"/>
<circle cx="345" cy="62" r="0.6" fill="#111"/>
<path d="M440.76,47.85 L441.49,47.52 L442.36,47.23 L442.98,46.51 L443.91,46.11 L444.45,44.98 L446.00,45.82 L446.46,44.42 L447.36,44.04 L448.59,44.97 L449.31,43.57 L450.36,43.81 L451.35,43.45 L452.32,44.42 L453.28,44.30 L454.24,44.33 L455.47,43.49 L456.31,44.28 L457.16,44.80 L458.16,44.91 L458.95,45.36 L459.61,45.91 L460.45,46.08 L461.96,45.43 L462.16,46.40 L463.60,45.98 L463.50,47.13 L464.14,47.54 L465.01,47.79 L465.11,48.68 L465.80,49.18 L467.01,49.45 L467.29,50.31 L467.51,51.17 L467.54,52.08 L468.23,52.69 L468.51,53.43 L468.11,54.31 L468.55,54.98 L467.61,55.86 L468.78,56.43 L468.35,57.19 L468.80,57.89 L468.53,58.64 L467.80,59.38 L467.21,60.09 L468.35,61.05 L466.79,61.54 L467.01,62.35 L466.46,62.92 L466.04,63.46 L466.33,64.24 L466.27,64.90 L464.79,64.86 L464.86,65.59 L463.79,65.72 L463.48,66.35 L462.49,66.61 L461.33,66.78 L460.39,67.15 L459.45,67.55 L459.09,68.78 L457.68,68.55 L456.50,68.40 L455.96,69.57 L454.96,69.81 L453.73,69.00 L452.70,68.51 L451.79,68.61 L450.91,68.51 L450.04,69.05 L449.31,68.89 L448.51,69.44 L447.78,69.83 L446.90,70.66 L446.00,71.46 L445.40,71.51 L444.96,71.18 L444.32,71.24 L443.61,71.38 L443.14,71.12 L442.60,70.96 L442.30,70.44 L441.52,70.50 L440.20,71.06 L440.47,69.73 L439.35,69.74 L438.48,69.40 L437.49,69.10 L437.71,67.94 L437.15,67.45 L436.85,66.90 L436.48,66.48 L436.42,65.97 L435.79,65.76 L436.12,65.09 L436.31,64.49 L437.81,63.38 L438.01,62.76 L437.18,62.42 L437.13,61.79 L438.05,60.92 L438.14,60.21 L439.34,59.37 L438.96,58.67 L438.32,57.88 L438.65,57.04 L438.76,56.13 L438.71,55.16 L439.95,54.57 L440.26,53.81 L440.29,52.99 L439.87,51.98 L439.72,51.15 L439.40,50.25 L439.69,49.81 L439.82,49.28 L439.77,48.60 L440.37,48.37 Z" fill="#080808"/>
<rect x="439.75" y="46.87" width="0.9" height="0.9" fill="#111"/>
<rect x="442.24" y="45.67" width="0.9" height="0.9" fill="#111"/>
<rect x="444.85" y="43.82" width="0.9" height="0.9" fill="#111"/>
<rect x="447.92" y="43.53" width="0.9" height="0.9" fill="#111"/>
<rect x="450.90" y="42.62" width="0.9" height="0.9" fill="#111"/>
<rect x="453.97" y="42.94" width="0.9" height="0.9" fill="#111"/>
<rect x="456.98" y="43.71" width="0.9" height="0.9" fill="#111"/>
<rect x="459.72" y="44.59" width="0.9" height="0.9" fill="#111"/>
<rect x="462.22" y="45.38" width="0.9" height="0.9" fill="#111"/>
<rect x="464.57" y="46.34" width="0.9" height="0.9" fill="#111"/>
<rect x="466.22" y="48.18" width="0.9" height="0.9" fill="#111"/>
<rect x="466.88" y="50.80" width="0.9" height="0.9" fill="#111"/>
<rect x="467.63" y="53.10" width="0.9" height="0.9" fill="#111"/>
<rect x="468.54" y="55.21" width="0.9" height="0.9" fill="#111"/>
<rect x="468.67" y="57.44" width="0.9" height="0.9" fill="#111"/>
<rect x="468.03" y="59.79" width="0.9" height="0.9" fill="#111"/>
<rect x="466.99" y="62.02" width="0.9" height="0.9" fill="#111"/>
<rect x="466.21" y="63.93" width="0.9" height="0.9" fill="#111"/>
<rect x="464.37" y="65.12" width="0.9" height="0.9" fill="#111"/>
<rect x="462.55" y="66.55" width="0.9" height="0.9" fill="#111"/>
<rect x="459.70" y="67.93" width="0.9" height="0.9" fill="#111"/>
<rect x="456.71" y="69.31" width="0.9" height="0.9" fill="#111"/>
<rect x="453.45" y="69.39" width="0.9" height="0.9" fill="#111"/>
<rect x="450.36" y="69.71" width="0.9" height="0.9" fill="#111"/>
<rect x="447.78" y="70.00" width="0.9" height="0.9" fill="#111"/>
<rect x="445.64" y="70.82" width="0.9" height="0.9" fill="#111"/>
<rect x="443.60" y="71.27" width="0.9" height="0.9" fill="#111"/>
<rect x="441.39" y="71.59" width="0.9" height="0.9" fill="#111"/>
<rect x="439.70" y="70.67" width="0.9" height="0.9" fill="#111"/>
<rect x="437.83" y="69.12" width="0.9" height="0.9" fill="#111"/>
<rect x="436.20" y="67.31" width="0.9" height="0.9" fill="#111"/>
<rect x="435.31" y="65.85" width="0.9" height="0.9" fill="#111"/>
<rect x="435.66" y="64.12" width="0.9" height="0.9" fill="#111"/>
<rect x="436.50" y="62.04" width="0.9" height="0.9" fill="#111"/>
<rect x="437.40" y="59.81" width="0.9" height="0.9" fill="#111"/>
<rect x="437.75" y="57.43" width="0.9" height="0.9" fill="#111"/>
<rect x="437.99" y="54.65" width="0.9" height="0.9" fill="#111"/>
<rect x="438.97" y="52.14" width="0.9" height="0.9" fill="#111"/>
<rect x="439.34" y="50.06" width="0.9" height="0.9" fill="#111"/>
<rect x="439.26" y="48.09" width="0.9" height="0.9" fill="#111"/>
<ellipse cx="451.5" cy="62.5" rx="14" ry="6.5" transform="rotate(-12 451.5 62.5)" fill="url(#core)" opacity="1.0"/>
<path d="M194.23,147.80 L194.13,147.23 L195.25,146.72 L194.65,146.09 L195.12,145.58 L195.88,145.16 L196.75,144.84 L195.97,144.22 L197.42,144.22 L197.09,143.82 L198.46,143.96 L198.95,143.89 L198.62,143.54 L199.81,143.72 L199.33,143.23 L200.49,143.39 L201.41,143.50 L201.84,143.40 L202.05,143.17 L202.22,142.87 L202.39,142.48 L204.06,143.03 L204.39,142.58 L205.30,142.49 L205.23,141.26 L206.81,141.98 L207.60,141.85 L208.30,141.66 L208.85,141.06 L209.44,140.32 L210.25,140.51 L211.05,141.00 L211.92,140.88 L212.73,141.27 L213.15,142.37 L213.74,142.63 L215.14,141.59 L215.71,141.73 L215.68,142.40 L217.10,141.44 L217.50,141.51 L218.21,141.26 L218.89,141.07 L219.43,141.01 L219.96,140.94 L221.08,140.45 L221.93,140.15 L223.48,139.36 L223.09,139.82 L224.93,138.80 L224.60,139.09 L225.49,138.54 L226.81,137.69 L227.47,137.24 L227.56,137.17 L227.60,137.18 L228.66,136.62 L228.95,136.64 L230.06,136.24 L229.37,136.95 L229.87,136.98 L230.84,136.78 L229.80,137.65 L230.47,137.57 L231.16,137.44 L231.20,137.61 L230.22,138.27 L230.22,138.45 L230.19,138.67 L231.28,138.45 L230.04,139.36 L230.35,139.70 L230.02,140.42 L228.51,141.64 L227.69,142.62 L228.02,143.29 L226.80,144.35 L225.62,145.26 L225.82,145.87 L224.72,146.60 L224.21,147.22 L223.34,147.80 L224.08,148.42 L223.83,149.06 L222.81,149.63 L222.64,150.39 L220.49,150.69 L220.05,151.43 L219.62,152.23 L219.49,153.25 L218.69,153.86 L217.27,153.78 L216.47,153.99 L216.04,154.48 L215.49,154.80 L215.24,155.59 L214.08,154.73 L213.88,155.83 L213.21,155.97 L212.60,156.36 L211.96,156.55 L211.32,156.56 L210.71,156.38 L210.11,156.63 L209.49,156.95 L208.71,157.84 L208.26,156.96 L207.48,157.35 L206.39,158.37 L205.93,157.80 L205.32,157.73 L204.65,157.88 L203.55,158.77 L203.17,158.68 L202.02,159.76 L201.61,159.86 L201.02,160.21 L201.28,159.50 L201.01,159.42 L200.52,159.51 L199.60,160.00 L198.87,160.20 L198.65,159.80 L198.40,159.43 L197.71,159.46 L197.00,159.46 L196.48,159.28 L195.96,159.07 L195.43,158.86 L195.27,158.34 L195.63,157.49 L194.29,157.70 L194.71,156.81 L194.01,156.55 L193.95,155.89 L193.07,155.55 L193.53,154.60 L193.16,154.00 L192.92,153.36 L192.90,152.69 L191.70,152.34 L192.24,151.59 L192.80,150.87 L192.94,150.25 L192.30,149.70 L193.41,148.99 L194.20,148.36 Z" fill="#080808"/>
<rect x="192.72" y="147.35" width="0.9" height="0.9" fill="#111"/>
<rect x="193.89" y="145.61" width="0.9" height="0.9" fill="#111"/>
<rect x="194.77" y="144.07" width="0.9" height="0.9" fill="#111"/>
<rect x="196.85" y="143.43" width="0.9" height="0.9" fill="#111"/>
<rect x="197.97" y="143.02" width="0.9" height="0.9" fill="#111"/>
<rect x="199.17" y="142.57" width="0.9" height="0.9" fill="#111"/>
<rect x="200.63" y="142.21" width="0.9" height="0.9" fill="#111"/>
<rect x="202.32" y="141.66" width="0.9" height="0.9" fill="#111"/>
<rect x="205.11" y="141.21" width="0.9" height="0.9" fill="#111"/>
<rect x="207.42" y="140.12" width="0.9" height="0.9" fill="#111"/>
<rect x="209.82" y="140.36" width="0.9" height="0.9" fill="#111"/>
<rect x="212.18" y="141.12" width="0.9" height="0.9" fill="#111"/>
<rect x="214.91" y="140.83" width="0.9" height="0.9" fill="#111"/>
<rect x="216.98" y="140.66" width="0.9" height="0.9" fill="#111"/>
<rect x="219.45" y="139.79" width="0.9" height="0.9" fill="#111"/>
<rect x="221.35" y="139.49" width="0.9" height="0.9" fill="#111"/>
<rect x="223.97" y="138.51" width="0.9" height="0.9" fill="#111"/>
<rect x="225.75" y="137.65" width="0.9" height="0.9" fill="#111"/>
<rect x="227.57" y="136.43" width="0.9" height="0.9" fill="#111"/>
<rect x="229.44" y="135.62" width="0.9" height="0.9" fill="#111"/>
<rect x="230.53" y="135.91" width="0.9" height="0.9" fill="#111"/>
<rect x="230.41" y="136.91" width="0.9" height="0.9" fill="#111"/>
<rect x="231.09" y="137.17" width="0.9" height="0.9" fill="#111"/>
<rect x="230.91" y="137.96" width="0.9" height="0.9" fill="#111"/>
<rect x="229.34" y="140.06" width="0.9" height="0.9" fill="#111"/>
<rect x="227.37" y="142.89" width="0.9" height="0.9" fill="#111"/>
<rect x="225.35" y="145.42" width="0.9" height="0.9" fill="#111"/>
<rect x="224.06" y="147.36" width="0.9" height="0.9" fill="#111"/>
<rect x="222.57" y="149.22" width="0.9" height="0.9" fill="#111"/>
<rect x="220.69" y="151.41" width="0.9" height="0.9" fill="#111"/>
<rect x="218.29" y="153.45" width="0.9" height="0.9" fill="#111"/>
<rect x="215.89" y="154.42" width="0.9" height="0.9" fill="#111"/>
<rect x="213.94" y="154.92" width="0.9" height="0.9" fill="#111"/>
<rect x="212.15" y="155.89" width="0.9" height="0.9" fill="#111"/>
<rect x="210.26" y="157.02" width="0.9" height="0.9" fill="#111"/>
<rect x="208.28" y="157.31" width="0.9" height="0.9" fill="#111"/>
<rect x="205.91" y="157.99" width="0.9" height="0.9" fill="#111"/>
<rect x="203.61" y="158.40" width="0.9" height="0.9" fill="#111"/>
<rect x="201.49" y="159.43" width="0.9" height="0.9" fill="#111"/>
<rect x="200.16" y="159.88" width="0.9" height="0.9" fill="#111"/>
<rect x="198.98" y="159.74" width="0.9" height="0.9" fill="#111"/>
<rect x="197.43" y="159.47" width="0.9" height="0.9" fill="#111"/>
<rect x="195.82" y="159.00" width="0.9" height="0.9" fill="#111"/>
<rect x="194.46" y="158.14" width="0.9" height="0.9" fill="#111"/>
<rect x="193.30" y="156.91" width="0.9" height="0.9" fill="#111"/>
<rect x="192.71" y="155.06" width="0.9" height="0.9" fill="#111"/>
<rect x="191.75" y="153.14" width="0.9" height="0.9" fill="#111"/>
<rect x="191.10" y="151.29" width="0.9" height="0.9" fill="#111"/>
<rect x="192.07" y="149.23" width="0.9" height="0.9" fill="#111"/>
<ellipse cx="203" cy="148.6" rx="5" ry="3.4" transform="rotate(-12 203 148.6)" fill="url(#core)" opacity="0.55"/>
<ellipse cx="216" cy="146.5" rx="5" ry="3" transform="rotate(-15 216 146.5)" fill="url(#core)" opacity="0.45"/>
<circle cx="174.7" cy="153" r="0.7" fill="#111"/>
<circle cx="218.4" cy="158.9" r="0.6" fill="#111"/>
<circle cx="196" cy="161.2" r="0.7" fill="#111"/>
<circle cx="199" cy="160.8" r="0.6" fill="#111"/>
<path d="M197,150.2 L201,147 L207,146 L213,145 L219,143.3 L225,140.8 L226.5,142.8 L221,146.5 L214,148.8 L207,150.3 L201,151.6 Z" fill="#6e6e6e" opacity="0.85" filter="url(#bl)"/>
<path d="M195.5,159.6 L198,158.6 L199.6,160.3 L197,161 Z" fill="#fff"/>
<path d="M277.23,149.26 L277.85,148.83 L278.02,147.61 L279.43,148.13 L280.12,147.48 L281.21,147.54 L282.11,147.26 L282.83,146.44 L283.77,146.18 L284.99,147.20 L286.03,147.57 L287.01,146.86 L288.02,147.83 L288.95,148.24 L290.12,146.87 L290.89,147.60 L291.99,146.94 L292.67,147.50 L293.84,146.71 L294.40,147.23 L294.97,147.55 L295.60,147.66 L296.78,146.82 L297.57,146.54 L298.51,146.02 L298.36,146.92 L299.49,146.16 L299.78,146.49 L300.40,146.49 L300.45,147.24 L300.99,147.52 L301.61,147.80 L302.39,148.00 L301.63,149.51 L302.28,149.82 L302.80,150.22 L303.04,150.78 L301.94,152.17 L301.69,152.97 L302.65,153.13 L302.50,153.95 L301.57,155.13 L300.73,156.25 L301.87,156.73 L300.85,157.96 L301.46,158.85 L300.80,159.98 L300.90,161.03 L299.60,162.01 L300.35,163.07 L299.21,163.82 L299.22,164.78 L299.59,165.91 L299.26,166.79 L298.04,167.14 L297.81,167.92 L297.77,168.80 L297.66,169.61 L297.28,170.11 L296.77,170.43 L296.69,171.13 L296.92,172.23 L296.74,172.95 L295.47,172.30 L295.41,173.38 L294.92,174.00 L293.68,173.29 L293.48,174.71 L292.26,173.89 L291.74,174.84 L290.92,174.98 L290.13,175.29 L289.21,174.94 L288.38,175.24 L287.51,175.62 L286.65,175.49 L285.78,175.99 L285.01,175.82 L284.25,176.02 L283.65,175.64 L282.66,176.85 L282.00,176.92 L281.44,176.78 L280.47,177.73 L279.81,177.81 L279.43,177.31 L279.07,176.84 L278.31,177.11 L278.11,176.41 L277.63,176.17 L276.95,176.23 L276.89,175.37 L276.23,175.31 L275.90,174.77 L276.18,173.51 L275.35,173.45 L275.82,172.04 L274.89,171.94 L274.65,171.18 L274.81,170.11 L275.26,168.87 L274.50,168.40 L274.54,167.44 L273.57,166.92 L274.66,165.57 L273.45,165.06 L273.11,164.21 L273.41,163.24 L273.17,162.37 L274.07,161.45 L272.75,160.58 L273.50,159.75 L272.78,158.78 L272.90,157.89 L274.15,157.30 L273.31,156.11 L273.25,155.12 L274.68,154.85 L274.47,153.86 L274.15,152.78 L275.20,152.62 L274.50,151.28 L275.56,151.28 L275.23,150.14 L276.39,150.34 L276.44,149.45 Z" fill="#080808"/>
<rect x="275.88" y="147.77" width="0.9" height="0.9" fill="#111"/>
<rect x="278.62" y="147.09" width="0.9" height="0.9" fill="#111"/>
<rect x="281.45" y="146.28" width="0.9" height="0.9" fill="#111"/>
<rect x="284.39" y="145.89" width="0.9" height="0.9" fill="#111"/>
<rect x="287.62" y="146.42" width="0.9" height="0.9" fill="#111"/>
<rect x="290.53" y="146.81" width="0.9" height="0.9" fill="#111"/>
<rect x="293.29" y="146.48" width="0.9" height="0.9" fill="#111"/>
<rect x="295.73" y="146.26" width="0.9" height="0.9" fill="#111"/>
<rect x="298.29" y="145.26" width="0.9" height="0.9" fill="#111"/>
<rect x="299.99" y="145.27" width="0.9" height="0.9" fill="#111"/>
<rect x="301.49" y="146.11" width="0.9" height="0.9" fill="#111"/>
<rect x="301.94" y="148.44" width="0.9" height="0.9" fill="#111"/>
<rect x="302.73" y="150.24" width="0.9" height="0.9" fill="#111"/>
<rect x="301.84" y="152.87" width="0.9" height="0.9" fill="#111"/>
<rect x="301.59" y="155.32" width="0.9" height="0.9" fill="#111"/>
<rect x="301.13" y="158.38" width="0.9" height="0.9" fill="#111"/>
<rect x="300.22" y="161.63" width="0.9" height="0.9" fill="#111"/>
<rect x="299.86" y="164.66" width="0.9" height="0.9" fill="#111"/>
<rect x="298.64" y="167.28" width="0.9" height="0.9" fill="#111"/>
<rect x="297.75" y="169.60" width="0.9" height="0.9" fill="#111"/>
<rect x="297.19" y="171.70" width="0.9" height="0.9" fill="#111"/>
<rect x="295.62" y="172.69" width="0.9" height="0.9" fill="#111"/>
<rect x="294.07" y="174.47" width="0.9" height="0.9" fill="#111"/>
<rect x="291.47" y="174.97" width="0.9" height="0.9" fill="#111"/>
<rect x="288.88" y="175.34" width="0.9" height="0.9" fill="#111"/>
<rect x="286.15" y="176.07" width="0.9" height="0.9" fill="#111"/>
<rect x="283.68" y="176.09" width="0.9" height="0.9" fill="#111"/>
<rect x="281.19" y="177.52" width="0.9" height="0.9" fill="#111"/>
<rect x="279.25" y="177.61" width="0.9" height="0.9" fill="#111"/>
<rect x="277.58" y="177.16" width="0.9" height="0.9" fill="#111"/>
<rect x="275.93" y="176.60" width="0.9" height="0.9" fill="#111"/>
<rect x="275.08" y="174.76" width="0.9" height="0.9" fill="#111"/>
<rect x="274.62" y="172.30" width="0.9" height="0.9" fill="#111"/>
<rect x="273.67" y="170.15" width="0.9" height="0.9" fill="#111"/>
<rect x="273.70" y="167.18" width="0.9" height="0.9" fill="#111"/>
<rect x="272.65" y="164.70" width="0.9" height="0.9" fill="#111"/>
<rect x="272.80" y="161.91" width="0.9" height="0.9" fill="#111"/>
<rect x="272.27" y="159.23" width="0.9" height="0.9" fill="#111"/>
<rect x="272.14" y="156.40" width="0.9" height="0.9" fill="#111"/>
<rect x="272.96" y="153.77" width="0.9" height="0.9" fill="#111"/>
<rect x="273.64" y="151.41" width="0.9" height="0.9" fill="#111"/>
<rect x="274.80" y="149.70" width="0.9" height="0.9" fill="#111"/>
<ellipse cx="284.3" cy="157.2" rx="3.5" ry="3.0" transform="rotate(0 284.3 157.2)" fill="url(#core)" opacity="0.35"/>
<ellipse cx="291.5" cy="155.8" rx="3.0" ry="3.0" transform="rotate(0 291.5 155.8)" fill="url(#core)" opacity="0.35"/>
<path d="M280.3,154.5 L283.5,152.3 L287,156.5 L290.5,152.3 L294,153.2 L291.5,158 L288.5,162.5 L286.5,169 L283,169.5 L282.5,164 L283.5,160 L281,157.5 Z" fill="#7a7a7a" opacity="0.9" filter="url(#bl)"/>
<path d="M359.10,158.00 L359.38,157.39 L359.48,156.81 L359.01,156.16 L359.60,155.63 L359.84,155.03 L359.70,154.27 L361.46,153.99 L362.04,153.27 L362.30,152.24 L364.12,152.00 L365.13,151.31 L365.73,150.24 L366.99,149.89 L367.72,148.99 L368.74,148.70 L369.42,147.76 L370.34,147.37 L371.39,147.65 L372.24,146.69 L373.25,146.63 L374.25,146.88 L375.55,145.31 L376.52,146.08 L377.68,145.91 L378.86,145.70 L380.48,144.69 L381.89,144.20 L382.96,144.23 L383.69,144.68 L384.61,144.86 L385.37,145.20 L387.08,144.58 L387.92,144.84 L388.49,145.28 L389.58,145.26 L389.93,145.79 L391.09,145.74 L391.25,146.39 L390.94,147.30 L392.11,147.32 L391.11,148.55 L391.95,148.78 L391.86,149.48 L391.65,150.25 L391.35,151.04 L392.33,151.36 L390.99,152.49 L391.54,153.00 L391.79,153.64 L390.06,154.71 L389.55,155.49 L389.52,156.25 L388.60,157.12 L388.01,157.99 L387.45,158.88 L385.58,159.63 L384.91,160.49 L383.93,161.34 L382.56,162.03 L382.72,163.51 L381.52,164.31 L380.44,165.09 L378.81,164.98 L378.80,166.76 L377.97,167.30 L377.10,167.51 L376.58,168.52 L375.78,168.64 L375.02,168.83 L374.25,169.17 L373.41,169.93 L372.51,170.21 L371.50,171.27 L370.37,172.47 L369.37,172.84 L368.32,173.42 L367.48,173.42 L366.93,172.81 L365.99,173.15 L365.35,172.80 L364.36,173.02 L363.88,172.32 L363.43,171.60 L362.36,171.68 L361.26,171.59 L361.29,170.17 L359.73,170.29 L360.01,168.75 L359.00,168.35 L358.39,167.69 L357.16,167.50 L356.42,167.04 L356.30,166.30 L356.57,165.43 L355.50,165.19 L356.14,164.27 L356.19,163.62 L355.17,163.28 L355.73,162.46 L355.90,161.75 L356.31,160.98 L356.24,160.27 L357.50,159.41 L357.36,158.71 Z" fill="#080808"/>
<rect x="357.02" y="157.55" width="0.9" height="0.9" fill="#111"/>
<rect x="357.78" y="155.61" width="0.9" height="0.9" fill="#111"/>
<rect x="359.29" y="153.83" width="0.9" height="0.9" fill="#111"/>
<rect x="361.31" y="151.51" width="0.9" height="0.9" fill="#111"/>
<rect x="364.62" y="149.11" width="0.9" height="0.9" fill="#111"/>
<rect x="367.88" y="147.43" width="0.9" height="0.9" fill="#111"/>
<rect x="370.79" y="146.35" width="0.9" height="0.9" fill="#111"/>
<rect x="373.92" y="145.09" width="0.9" height="0.9" fill="#111"/>
<rect x="377.51" y="144.68" width="0.9" height="0.9" fill="#111"/>
<rect x="381.66" y="143.39" width="0.9" height="0.9" fill="#111"/>
<rect x="384.63" y="143.87" width="0.9" height="0.9" fill="#111"/>
<rect x="387.56" y="144.31" width="0.9" height="0.9" fill="#111"/>
<rect x="389.80" y="145.11" width="0.9" height="0.9" fill="#111"/>
<rect x="391.72" y="146.11" width="0.9" height="0.9" fill="#111"/>
<rect x="391.91" y="148.12" width="0.9" height="0.9" fill="#111"/>
<rect x="391.86" y="150.22" width="0.9" height="0.9" fill="#111"/>
<rect x="391.23" y="152.52" width="0.9" height="0.9" fill="#111"/>
<rect x="389.81" y="154.93" width="0.9" height="0.9" fill="#111"/>
<rect x="388.16" y="157.54" width="0.9" height="0.9" fill="#111"/>
<rect x="385.51" y="160.27" width="0.9" height="0.9" fill="#111"/>
<rect x="382.45" y="163.16" width="0.9" height="0.9" fill="#111"/>
<rect x="379.38" y="165.83" width="0.9" height="0.9" fill="#111"/>
<rect x="376.77" y="167.36" width="0.9" height="0.9" fill="#111"/>
<rect x="374.75" y="169.53" width="0.9" height="0.9" fill="#111"/>
<rect x="371.98" y="171.03" width="0.9" height="0.9" fill="#111"/>
<rect x="368.76" y="173.00" width="0.9" height="0.9" fill="#111"/>
<rect x="365.97" y="173.56" width="0.9" height="0.9" fill="#111"/>
<rect x="363.63" y="173.04" width="0.9" height="0.9" fill="#111"/>
<rect x="361.89" y="171.25" width="0.9" height="0.9" fill="#111"/>
<rect x="359.00" y="170.09" width="0.9" height="0.9" fill="#111"/>
<rect x="356.73" y="168.03" width="0.9" height="0.9" fill="#111"/>
<rect x="355.26" y="166.14" width="0.9" height="0.9" fill="#111"/>
<rect x="355.16" y="164.02" width="0.9" height="0.9" fill="#111"/>
<rect x="355.11" y="162.06" width="0.9" height="0.9" fill="#111"/>
<rect x="356.25" y="159.76" width="0.9" height="0.9" fill="#111"/>
<ellipse cx="378.5" cy="154.7" rx="10" ry="5.8" transform="rotate(-28 378.5 154.7)" fill="url(#core)" opacity="1.0"/>
<ellipse cx="368.4" cy="163.1" rx="8" ry="5" transform="rotate(-28 368.4 163.1)" fill="url(#core)" opacity="0.85"/>
<path d="M438.94,169.85 L438.06,169.20 L438.62,168.66 L439.47,168.19 L439.81,167.61 L440.78,167.21 L442.00,166.96 L442.97,166.69 L443.71,166.32 L443.66,165.35 L445.21,165.54 L445.94,165.09 L446.70,164.63 L447.84,164.89 L448.43,164.27 L449.15,163.93 L449.77,162.94 L450.55,163.19 L451.24,162.99 L452.06,161.74 L452.64,162.29 L453.46,161.66 L454.01,162.00 L454.25,162.91 L455.09,162.44 L455.69,162.55 L456.57,162.29 L456.75,163.06 L457.72,162.86 L458.16,163.32 L458.41,163.97 L459.85,163.67 L459.48,164.75 L461.06,164.52 L460.72,165.43 L460.97,165.93 L461.74,166.20 L463.06,166.32 L463.84,166.69 L462.74,167.58 L463.83,167.87 L464.06,168.38 L464.67,168.84 L463.70,169.50 L464.08,170.06 L463.65,170.68 L464.15,171.34 L462.91,171.89 L463.61,172.65 L462.16,173.03 L461.61,173.52 L461.86,174.28 L461.00,174.70 L459.84,174.94 L459.95,175.78 L458.49,175.74 L458.66,176.78 L457.71,177.05 L456.87,177.48 L455.72,177.56 L454.49,177.42 L453.53,177.68 L452.54,177.86 L451.67,178.82 L450.64,177.72 L449.55,179.18 L448.83,178.00 L447.82,178.44 L446.86,178.64 L445.44,179.58 L444.90,179.00 L444.20,178.75 L442.86,179.19 L442.82,178.24 L441.83,178.23 L441.06,178.01 L440.14,177.88 L439.56,177.51 L439.17,177.03 L439.10,176.39 L438.69,175.93 L438.56,175.36 L437.20,175.23 L437.22,174.61 L436.92,174.09 L437.73,173.33 L437.30,172.83 L436.83,172.27 L437.27,171.60 L438.20,170.95 L437.93,170.37 Z" fill="#080808"/>
<rect x="436.76" y="169.29" width="0.9" height="0.9" fill="#111"/>
<rect x="438.82" y="167.70" width="0.9" height="0.9" fill="#111"/>
<rect x="440.89" y="166.24" width="0.9" height="0.9" fill="#111"/>
<rect x="443.16" y="164.87" width="0.9" height="0.9" fill="#111"/>
<rect x="445.71" y="163.39" width="0.9" height="0.9" fill="#111"/>
<rect x="448.39" y="162.21" width="0.9" height="0.9" fill="#111"/>
<rect x="450.83" y="161.92" width="0.9" height="0.9" fill="#111"/>
<rect x="452.95" y="161.42" width="0.9" height="0.9" fill="#111"/>
<rect x="454.90" y="161.50" width="0.9" height="0.9" fill="#111"/>
<rect x="456.76" y="162.03" width="0.9" height="0.9" fill="#111"/>
<rect x="458.80" y="162.78" width="0.9" height="0.9" fill="#111"/>
<rect x="460.47" y="164.15" width="0.9" height="0.9" fill="#111"/>
<rect x="462.19" y="165.39" width="0.9" height="0.9" fill="#111"/>
<rect x="463.42" y="166.84" width="0.9" height="0.9" fill="#111"/>
<rect x="464.82" y="168.31" width="0.9" height="0.9" fill="#111"/>
<rect x="464.30" y="170.23" width="0.9" height="0.9" fill="#111"/>
<rect x="462.75" y="172.13" width="0.9" height="0.9" fill="#111"/>
<rect x="462.12" y="174.06" width="0.9" height="0.9" fill="#111"/>
<rect x="459.56" y="175.37" width="0.9" height="0.9" fill="#111"/>
<rect x="457.42" y="176.76" width="0.9" height="0.9" fill="#111"/>
<rect x="454.67" y="178.13" width="0.9" height="0.9" fill="#111"/>
<rect x="451.25" y="178.66" width="0.9" height="0.9" fill="#111"/>
<rect x="447.97" y="179.12" width="0.9" height="0.9" fill="#111"/>
<rect x="445.02" y="179.08" width="0.9" height="0.9" fill="#111"/>
<rect x="442.57" y="178.57" width="0.9" height="0.9" fill="#111"/>
<rect x="440.04" y="177.99" width="0.9" height="0.9" fill="#111"/>
<rect x="438.66" y="176.61" width="0.9" height="0.9" fill="#111"/>
<rect x="437.23" y="175.25" width="0.9" height="0.9" fill="#111"/>
<rect x="436.32" y="173.68" width="0.9" height="0.9" fill="#111"/>
<rect x="436.59" y="171.80" width="0.9" height="0.9" fill="#111"/>
<rect x="436.86" y="169.91" width="0.9" height="0.9" fill="#111"/>
<ellipse cx="448.5" cy="170.8" rx="10.5" ry="5" transform="rotate(-22 448.5 170.8)" fill="url(#core)" opacity="1.0"/>
<circle cx="467.3" cy="166.1" r="0.85" fill="#111"/>
<text x="3.5" y="241.7" font-size="12" text-anchor="start" font-weight="bold" fill="#111" stroke="#111" stroke-width="0.25">C</text>
<line x1="46.2" y1="254.6" x2="46.2" y2="351.6" stroke="#333" stroke-width="1.2"/>
<line x1="45.6" y1="351.2" x2="290.6" y2="351.2" stroke="#222" stroke-width="1.2"/>
<line x1="43.4" y1="351.2" x2="46.2" y2="351.2" stroke="#333" stroke-width="1"/>
<text x="43" y="354.1" font-size="8.2" text-anchor="end" fill="#222" stroke="#222" stroke-width="0.2">0</text>
<line x1="43.4" y1="331.88" x2="46.2" y2="331.88" stroke="#333" stroke-width="1"/>
<text x="42.2" y="333.78" font-size="8.2" text-anchor="end" fill="#222" stroke="#222" stroke-width="0.2">200</text>
<line x1="43.4" y1="312.56" x2="46.2" y2="312.56" stroke="#333" stroke-width="1"/>
<text x="42.2" y="314.46" font-size="8.2" text-anchor="end" fill="#222" stroke="#222" stroke-width="0.2">400</text>
<line x1="43.4" y1="293.24" x2="46.2" y2="293.24" stroke="#333" stroke-width="1"/>
<text x="42.2" y="295.14" font-size="8.2" text-anchor="end" fill="#222" stroke="#222" stroke-width="0.2">600</text>
<line x1="43.4" y1="273.92" x2="46.2" y2="273.92" stroke="#333" stroke-width="1"/>
<text x="42.2" y="275.82" font-size="8.2" text-anchor="end" fill="#222" stroke="#222" stroke-width="0.2">800</text>
<line x1="43.4" y1="254.6" x2="46.2" y2="254.6" stroke="#333" stroke-width="1"/>
<text x="42.2" y="256.5" font-size="8.2" text-anchor="end" fill="#222" stroke="#222" stroke-width="0.2">1000</text>
<text x="20.1" y="299.7" font-size="8.55" text-anchor="middle" fill="#222" transform="rotate(-90 20.1 299.7)" stroke="#222" stroke-width="0.2">SOCS3 expression [MFI]</text>
<line x1="107.4" y1="249.5" x2="107.4" y2="351.2" stroke="#222" stroke-width="1.1" stroke-dasharray="3.4,1.8"/>
<line x1="168.8" y1="249.5" x2="168.8" y2="351.2" stroke="#222" stroke-width="1.1" stroke-dasharray="3.4,1.8"/>
<line x1="229.6" y1="249.5" x2="229.6" y2="351.2" stroke="#222" stroke-width="1.1" stroke-dasharray="3.4,1.8"/>
<line x1="182.3" y1="254.9" x2="214" y2="254.9" stroke="#1e1e1e" stroke-width="1.4"/>
<line x1="245" y1="255.5" x2="275.3" y2="255.5" stroke="#1e1e1e" stroke-width="1.4"/>
<text x="197.9" y="257.4" font-size="10.5" text-anchor="middle" fill="#111" stroke="#111" stroke-width="0.3">**</text>
<text x="259.8" y="257.9" font-size="10.5" text-anchor="middle" fill="#111" stroke="#111" stroke-width="0.3">**</text>
<text x="61" y="361.8" font-size="8.7" text-anchor="middle" fill="#222" stroke="#222" stroke-width="0.2">low</text>
<text x="91.2" y="361.8" font-size="8.7" text-anchor="middle" fill="#222" stroke="#222" stroke-width="0.2">high</text>
<text x="121" y="361.8" font-size="8.7" text-anchor="middle" fill="#222" stroke="#222" stroke-width="0.2">low</text>
<text x="152" y="361.8" font-size="8.7" text-anchor="middle" fill="#222" stroke="#222" stroke-width="0.2">high</text>
<text x="183.5" y="361.8" font-size="8.7" text-anchor="middle" fill="#222" stroke="#222" stroke-width="0.2">low</text>
<text x="213.8" y="361.8" font-size="8.7" text-anchor="middle" fill="#222" stroke="#222" stroke-width="0.2">high</text>
<text x="243.5" y="361.8" font-size="8.7" text-anchor="middle" fill="#222" stroke="#222" stroke-width="0.2">low</text>
<text x="274" y="361.8" font-size="8.7" text-anchor="middle" fill="#222" stroke="#222" stroke-width="0.2">high</text>
<text x="75.5" y="377.4" font-size="10" text-anchor="middle" fill="#222" stroke="#222" stroke-width="0.2">TNF&#945;</text>
<text x="136.5" y="377.4" font-size="10" text-anchor="middle" fill="#222" stroke="#222" stroke-width="0.2">IFN&#947;</text>
<text x="197.6" y="377.4" font-size="10" text-anchor="middle" fill="#222" stroke="#222" stroke-width="0.2">IL-4</text>
<text x="257.6" y="377.4" font-size="10" text-anchor="middle" fill="#222" stroke="#222" stroke-width="0.2">IL-17</text>
<line x1="52" y1="320.2" x2="71.8" y2="320.2" stroke="#111" stroke-width="1.6"/>
<line x1="82" y1="316" x2="101.7" y2="316" stroke="#111" stroke-width="1.6"/>
<line x1="112.2" y1="318" x2="132.1" y2="318" stroke="#111" stroke-width="1.6"/>
<line x1="142.8" y1="317.3" x2="162.7" y2="317.3" stroke="#111" stroke-width="1.6"/>
<line x1="173" y1="322.7" x2="193" y2="322.7" stroke="#111" stroke-width="1.6"/>
<line x1="203.7" y1="312.2" x2="223.4" y2="312.2" stroke="#111" stroke-width="1.6"/>
<line x1="234.4" y1="322.3" x2="254.6" y2="322.3" stroke="#111" stroke-width="1.6"/>
<line x1="264.7" y1="310" x2="285" y2="310" stroke="#111" stroke-width="1.6"/>
<circle cx="61.9" cy="268.6" r="1.3" fill="#fff" stroke="#2a2a2a" stroke-width="0.95"/>
<circle cx="59.5" cy="288.6" r="1.3" fill="#fff" stroke="#2a2a2a" stroke-width="0.95"/>
<circle cx="64.4" cy="287.5" r="1.3" fill="#fff" stroke="#2a2a2a" stroke-width="0.95"/>
<circle cx="59.5" cy="294.1" r="1.3" fill="#fff" stroke="#2a2a2a" stroke-width="0.95"/>
<circle cx="64.4" cy="295.7" r="1.3" fill="#fff" stroke="#2a2a2a" stroke-width="0.95"/>
<circle cx="62" cy="300.4" r="1.3" fill="#fff" stroke="#2a2a2a" stroke-width="0.95"/>
<circle cx="56.8" cy="305.9" r="1.3" fill="#fff" stroke="#2a2a2a" stroke-width="0.95"/>
<circle cx="62" cy="308.2" r="1.3" fill="#fff" stroke="#2a2a2a" stroke-width="0.95"/>
<circle cx="66.7" cy="306.2" r="1.3" fill="#fff" stroke="#2a2a2a" stroke-width="0.95"/>
<circle cx="56.8" cy="308.9" r="1.3" fill="#fff" stroke="#2a2a2a" stroke-width="0.95"/>
<circle cx="67" cy="310.3" r="1.3" fill="#fff" stroke="#2a2a2a" stroke-width="0.95"/>
<circle cx="62" cy="313.1" r="1.3" fill="#fff" stroke="#2a2a2a" stroke-width="0.95"/>
<circle cx="56.8" cy="318.6" r="1.3" fill="#fff" stroke="#2a2a2a" stroke-width="0.95"/>
<circle cx="62" cy="318.6" r="1.3" fill="#fff" stroke="#2a2a2a" stroke-width="0.95"/>
<circle cx="67" cy="318.3" r="1.3" fill="#fff" stroke="#2a2a2a" stroke-width="0.95"/>
<circle cx="54.8" cy="324.1" r="1.3" fill="#fff" stroke="#2a2a2a" stroke-width="0.95"/>
<circle cx="59.5" cy="323" r="1.3" fill="#fff" stroke="#2a2a2a" stroke-width="0.95"/>
<circle cx="64.7" cy="323.3" r="1.3" fill="#fff" stroke="#2a2a2a" stroke-width="0.95"/>
<circle cx="69.4" cy="324.9" r="1.3" fill="#fff" stroke="#2a2a2a" stroke-width="0.95"/>
<circle cx="54.8" cy="328.1" r="1.3" fill="#fff" stroke="#2a2a2a" stroke-width="0.95"/>
<circle cx="59.5" cy="327.3" r="1.3" fill="#fff" stroke="#2a2a2a" stroke-width="0.95"/>
<circle cx="64.7" cy="327.3" r="1.3" fill="#fff" stroke="#2a2a2a" stroke-width="0.95"/>
<circle cx="69.4" cy="328.9" r="1.3" fill="#fff" stroke="#2a2a2a" stroke-width="0.95"/>
<circle cx="56.8" cy="330.8" r="1.3" fill="#fff" stroke="#2a2a2a" stroke-width="0.95"/>
<circle cx="62" cy="329.8" r="1.3" fill="#fff" stroke="#2a2a2a" stroke-width="0.95"/>
<circle cx="67" cy="331.2" r="1.3" fill="#fff" stroke="#2a2a2a" stroke-width="0.95"/>
<circle cx="54.8" cy="334.4" r="1.3" fill="#fff" stroke="#2a2a2a" stroke-width="0.95"/>
<circle cx="59.5" cy="333" r="1.3" fill="#fff" stroke="#2a2a2a" stroke-width="0.95"/>
<circle cx="62" cy="332.6" r="1.3" fill="#fff" stroke="#2a2a2a" stroke-width="0.95"/>
<circle cx="64.7" cy="334" r="1.3" fill="#fff" stroke="#2a2a2a" stroke-width="0.95"/>
<circle cx="69.4" cy="334.6" r="1.3" fill="#fff" stroke="#2a2a2a" stroke-width="0.95"/>
<circle cx="57" cy="336.5" r="1.3" fill="#fff" stroke="#2a2a2a" stroke-width="0.95"/>
<circle cx="67" cy="336.5" r="1.3" fill="#fff" stroke="#2a2a2a" stroke-width="0.95"/>
<circle cx="59.5" cy="339.9" r="1.3" fill="#fff" stroke="#2a2a2a" stroke-width="0.95"/>
<circle cx="64.7" cy="339.9" r="1.3" fill="#fff" stroke="#2a2a2a" stroke-width="0.95"/>
<circle cx="69.4" cy="337.8" r="1.3" fill="#fff" stroke="#2a2a2a" stroke-width="0.95"/>
<circle cx="62" cy="348.9" r="1.3" fill="#fff" stroke="#2a2a2a" stroke-width="0.95"/>
<circle cx="91.9" cy="274.9" r="1.7" fill="#111"/>
<circle cx="89.6" cy="295.7" r="1.7" fill="#111"/>
<circle cx="94.6" cy="296.5" r="1.7" fill="#111"/>
<circle cx="99.3" cy="298" r="1.7" fill="#111"/>
<circle cx="84.7" cy="299.6" r="1.7" fill="#111"/>
<circle cx="89.6" cy="301.2" r="1.7" fill="#111"/>
<circle cx="94.6" cy="300.4" r="1.7" fill="#111"/>
<circle cx="84.7" cy="304.3" r="1.7" fill="#111"/>
<circle cx="89.6" cy="306.2" r="1.7" fill="#111"/>
<circle cx="94.6" cy="308" r="1.7" fill="#111"/>
<circle cx="99.3" cy="306.7" r="1.7" fill="#111"/>
<circle cx="84.7" cy="309" r="1.7" fill="#111"/>
<circle cx="99.3" cy="309.6" r="1.7" fill="#111"/>
<circle cx="89.6" cy="313.9" r="1.7" fill="#111"/>
<circle cx="94.6" cy="313.9" r="1.7" fill="#111"/>
<circle cx="84.7" cy="317.8" r="1.7" fill="#111"/>
<circle cx="89.6" cy="318.6" r="1.7" fill="#111"/>
<circle cx="94.6" cy="317.8" r="1.7" fill="#111"/>
<circle cx="99.3" cy="318.6" r="1.7" fill="#111"/>
<circle cx="84.7" cy="321.8" r="1.7" fill="#111"/>
<circle cx="89.6" cy="321" r="1.7" fill="#111"/>
<circle cx="94.6" cy="322.6" r="1.7" fill="#111"/>
<circle cx="99.3" cy="321" r="1.7" fill="#111"/>
<circle cx="87.2" cy="324.1" r="1.7" fill="#111"/>
<circle cx="91.9" cy="324.9" r="1.7" fill="#111"/>
<circle cx="97" cy="324.1" r="1.7" fill="#111"/>
<circle cx="84.7" cy="326.5" r="1.7" fill="#111"/>
<circle cx="89.6" cy="327.3" r="1.7" fill="#111"/>
<circle cx="94.6" cy="326.5" r="1.7" fill="#111"/>
<circle cx="99.3" cy="327.3" r="1.7" fill="#111"/>
<circle cx="87.2" cy="328.9" r="1.7" fill="#111"/>
<circle cx="91.9" cy="329.6" r="1.7" fill="#111"/>
<circle cx="97" cy="329.6" r="1.7" fill="#111"/>
<circle cx="84.7" cy="332" r="1.7" fill="#111"/>
<circle cx="89.6" cy="333.6" r="1.7" fill="#111"/>
<circle cx="94.6" cy="333.6" r="1.7" fill="#111"/>
<circle cx="99.3" cy="332.8" r="1.7" fill="#111"/>
<circle cx="87.2" cy="335.6" r="1.7" fill="#111"/>
<circle cx="91.9" cy="336.6" r="1.7" fill="#111"/>
<circle cx="97" cy="335.6" r="1.7" fill="#111"/>
<circle cx="122" cy="267" r="1.3" fill="#fff" stroke="#2a2a2a" stroke-width="0.95"/>
<circle cx="122" cy="273.4" r="1.3" fill="#fff" stroke="#2a2a2a" stroke-width="0.95"/>
<circle cx="122" cy="287.5" r="1.3" fill="#fff" stroke="#2a2a2a" stroke-width="0.95"/>
<circle cx="119.4" cy="295" r="1.3" fill="#fff" stroke="#2a2a2a" stroke-width="0.95"/>
<circle cx="124.5" cy="294" r="1.3" fill="#fff" stroke="#2a2a2a" stroke-width="0.95"/>
<circle cx="116.8" cy="298.3" r="1.3" fill="#fff" stroke="#2a2a2a" stroke-width="0.95"/>
<circle cx="127" cy="296.9" r="1.3" fill="#fff" stroke="#2a2a2a" stroke-width="0.95"/>
<circle cx="122" cy="300.5" r="1.3" fill="#fff" stroke="#2a2a2a" stroke-width="0.95"/>
<circle cx="116.8" cy="306.1" r="1.3" fill="#fff" stroke="#2a2a2a" stroke-width="0.95"/>
<circle cx="119.4" cy="307.9" r="1.3" fill="#fff" stroke="#2a2a2a" stroke-width="0.95"/>
<circle cx="122" cy="306.9" r="1.3" fill="#fff" stroke="#2a2a2a" stroke-width="0.95"/>
<circle cx="124.5" cy="307.9" r="1.3" fill="#fff" stroke="#2a2a2a" stroke-width="0.95"/>
<circle cx="126.9" cy="306.5" r="1.3" fill="#fff" stroke="#2a2a2a" stroke-width="0.95"/>
<circle cx="116.8" cy="313.3" r="1.3" fill="#fff" stroke="#2a2a2a" stroke-width="0.95"/>
<circle cx="122" cy="313.3" r="1.3" fill="#fff" stroke="#2a2a2a" stroke-width="0.95"/>
<circle cx="126.9" cy="312.3" r="1.3" fill="#fff" stroke="#2a2a2a" stroke-width="0.95"/>
<circle cx="119.4" cy="322.4" r="1.3" fill="#fff" stroke="#2a2a2a" stroke-width="0.95"/>
<circle cx="124.5" cy="321.4" r="1.3" fill="#fff" stroke="#2a2a2a" stroke-width="0.95"/>
<circle cx="114.4" cy="324.5" r="1.3" fill="#fff" stroke="#2a2a2a" stroke-width="0.95"/>
<circle cx="119.4" cy="324.8" r="1.3" fill="#fff" stroke="#2a2a2a" stroke-width="0.95"/>
<circle cx="124.5" cy="324.5" r="1.3" fill="#fff" stroke="#2a2a2a" stroke-width="0.95"/>
<circle cx="129.5" cy="325.3" r="1.3" fill="#fff" stroke="#2a2a2a" stroke-width="0.95"/>
<circle cx="114.4" cy="327.2" r="1.3" fill="#fff" stroke="#2a2a2a" stroke-width="0.95"/>
<circle cx="122" cy="326.2" r="1.3" fill="#fff" stroke="#2a2a2a" stroke-width="0.95"/>
<circle cx="129.5" cy="327.9" r="1.3" fill="#fff" stroke="#2a2a2a" stroke-width="0.95"/>
<circle cx="114.4" cy="330.3" r="1.3" fill="#fff" stroke="#2a2a2a" stroke-width="0.95"/>
<circle cx="119.4" cy="329.6" r="1.3" fill="#fff" stroke="#2a2a2a" stroke-width="0.95"/>
<circle cx="124.5" cy="329.6" r="1.3" fill="#fff" stroke="#2a2a2a" stroke-width="0.95"/>
<circle cx="129.5" cy="330.5" r="1.3" fill="#fff" stroke="#2a2a2a" stroke-width="0.95"/>
<circle cx="114.4" cy="334.3" r="1.3" fill="#fff" stroke="#2a2a2a" stroke-width="0.95"/>
<circle cx="119.4" cy="333.9" r="1.3" fill="#fff" stroke="#2a2a2a" stroke-width="0.95"/>
<circle cx="124.5" cy="334.3" r="1.3" fill="#fff" stroke="#2a2a2a" stroke-width="0.95"/>
<circle cx="127.2" cy="335.2" r="1.3" fill="#fff" stroke="#2a2a2a" stroke-width="0.95"/>
<circle cx="129.5" cy="332.7" r="1.3" fill="#fff" stroke="#2a2a2a" stroke-width="0.95"/>
<circle cx="116.8" cy="337.8" r="1.3" fill="#fff" stroke="#2a2a2a" stroke-width="0.95"/>
<circle cx="122" cy="339.2" r="1.3" fill="#fff" stroke="#2a2a2a" stroke-width="0.95"/>
<circle cx="122" cy="349.1" r="1.3" fill="#fff" stroke="#2a2a2a" stroke-width="0.95"/>
<circle cx="152.6" cy="286.4" r="1.7" fill="#111"/>
<circle cx="145.4" cy="293" r="1.7" fill="#111"/>
<circle cx="160.6" cy="294.4" r="1.7" fill="#111"/>
<circle cx="150.5" cy="296.5" r="1.7" fill="#111"/>
<circle cx="155.2" cy="296.5" r="1.7" fill="#111"/>
<circle cx="147.6" cy="299.8" r="1.7" fill="#111"/>
<circle cx="157.7" cy="299.8" r="1.7" fill="#111"/>
<circle cx="152.6" cy="303.1" r="1.7" fill="#111"/>
<circle cx="148" cy="303.5" r="1.7" fill="#111"/>
<circle cx="148" cy="306.5" r="1.7" fill="#111"/>
<circle cx="152.6" cy="306.2" r="1.7" fill="#111"/>
<circle cx="157.7" cy="305.8" r="1.7" fill="#111"/>
<circle cx="148" cy="309.2" r="1.7" fill="#111"/>
<circle cx="152.6" cy="309.8" r="1.7" fill="#111"/>
<circle cx="148" cy="315.2" r="1.7" fill="#111"/>
<circle cx="152.6" cy="315.9" r="1.7" fill="#111"/>
<circle cx="146.8" cy="319.5" r="1.7" fill="#111"/>
<circle cx="152.6" cy="318.8" r="1.7" fill="#111"/>
<circle cx="157.7" cy="320.2" r="1.7" fill="#111"/>
<circle cx="148" cy="322.4" r="1.7" fill="#111"/>
<circle cx="152.6" cy="322.4" r="1.7" fill="#111"/>
<circle cx="145.4" cy="326.7" r="1.7" fill="#111"/>
<circle cx="150.5" cy="326" r="1.7" fill="#111"/>
<circle cx="155.2" cy="326.7" r="1.7" fill="#111"/>
<circle cx="160.6" cy="326" r="1.7" fill="#111"/>
<circle cx="148" cy="330.3" r="1.7" fill="#111"/>
<circle cx="152.6" cy="330.3" r="1.7" fill="#111"/>
<circle cx="157.7" cy="331" r="1.7" fill="#111"/>
<circle cx="148" cy="334.3" r="1.7" fill="#111"/>
<circle cx="152.6" cy="333.9" r="1.7" fill="#111"/>
<circle cx="155.5" cy="334.8" r="1.7" fill="#111"/>
<circle cx="155.2" cy="337.2" r="1.7" fill="#111"/>
<circle cx="150.5" cy="339" r="1.7" fill="#111"/>
<circle cx="182.6" cy="273.1" r="1.3" fill="#fff" stroke="#2a2a2a" stroke-width="0.95"/>
<circle cx="180.2" cy="295.5" r="1.3" fill="#fff" stroke="#2a2a2a" stroke-width="0.95"/>
<circle cx="182.6" cy="294.2" r="1.3" fill="#fff" stroke="#2a2a2a" stroke-width="0.95"/>
<circle cx="185.2" cy="299.7" r="1.3" fill="#fff" stroke="#2a2a2a" stroke-width="0.95"/>
<circle cx="182.6" cy="307.1" r="1.3" fill="#fff" stroke="#2a2a2a" stroke-width="0.95"/>
<circle cx="182.6" cy="312.2" r="1.3" fill="#fff" stroke="#2a2a2a" stroke-width="0.95"/>
<circle cx="177.7" cy="317.2" r="1.3" fill="#fff" stroke="#2a2a2a" stroke-width="0.95"/>
<circle cx="180.2" cy="318.8" r="1.3" fill="#fff" stroke="#2a2a2a" stroke-width="0.95"/>
<circle cx="182.6" cy="317" r="1.3" fill="#fff" stroke="#2a2a2a" stroke-width="0.95"/>
<circle cx="185.2" cy="318.8" r="1.3" fill="#fff" stroke="#2a2a2a" stroke-width="0.95"/>
<circle cx="187.8" cy="317.2" r="1.3" fill="#fff" stroke="#2a2a2a" stroke-width="0.95"/>
<circle cx="177.7" cy="320.3" r="1.3" fill="#fff" stroke="#2a2a2a" stroke-width="0.95"/>
<circle cx="182.6" cy="320.6" r="1.3" fill="#fff" stroke="#2a2a2a" stroke-width="0.95"/>
<circle cx="187.8" cy="320.3" r="1.3" fill="#fff" stroke="#2a2a2a" stroke-width="0.95"/>
<circle cx="175.1" cy="323.2" r="1.3" fill="#fff" stroke="#2a2a2a" stroke-width="0.95"/>
<circle cx="177.7" cy="323.4" r="1.3" fill="#fff" stroke="#2a2a2a" stroke-width="0.95"/>
<circle cx="180.2" cy="322.8" r="1.3" fill="#fff" stroke="#2a2a2a" stroke-width="0.95"/>
<circle cx="182.6" cy="323.7" r="1.3" fill="#fff" stroke="#2a2a2a" stroke-width="0.95"/>
<circle cx="185.2" cy="323.2" r="1.3" fill="#fff" stroke="#2a2a2a" stroke-width="0.95"/>
<circle cx="187.8" cy="322.8" r="1.3" fill="#fff" stroke="#2a2a2a" stroke-width="0.95"/>
<circle cx="190.7" cy="323.2" r="1.3" fill="#fff" stroke="#2a2a2a" stroke-width="0.95"/>
<circle cx="175.1" cy="326" r="1.3" fill="#fff" stroke="#2a2a2a" stroke-width="0.95"/>
<circle cx="177.7" cy="326.6" r="1.3" fill="#fff" stroke="#2a2a2a" stroke-width="0.95"/>
<circle cx="182.6" cy="325.9" r="1.3" fill="#fff" stroke="#2a2a2a" stroke-width="0.95"/>
<circle cx="185.2" cy="326.6" r="1.3" fill="#fff" stroke="#2a2a2a" stroke-width="0.95"/>
<circle cx="187.8" cy="326" r="1.3" fill="#fff" stroke="#2a2a2a" stroke-width="0.95"/>
<circle cx="190.7" cy="326.6" r="1.3" fill="#fff" stroke="#2a2a2a" stroke-width="0.95"/>
<circle cx="175.1" cy="330.2" r="1.3" fill="#fff" stroke="#2a2a2a" stroke-width="0.95"/>
<circle cx="177.7" cy="330.9" r="1.3" fill="#fff" stroke="#2a2a2a" stroke-width="0.95"/>
<circle cx="180.2" cy="329.9" r="1.3" fill="#fff" stroke="#2a2a2a" stroke-width="0.95"/>
<circle cx="182.6" cy="331.3" r="1.3" fill="#fff" stroke="#2a2a2a" stroke-width="0.95"/>
<circle cx="185.2" cy="330.2" r="1.3" fill="#fff" stroke="#2a2a2a" stroke-width="0.95"/>
<circle cx="187.8" cy="331.6" r="1.3" fill="#fff" stroke="#2a2a2a" stroke-width="0.95"/>
<circle cx="190.7" cy="330.2" r="1.3" fill="#fff" stroke="#2a2a2a" stroke-width="0.95"/>
<circle cx="177.7" cy="333.8" r="1.3" fill="#fff" stroke="#2a2a2a" stroke-width="0.95"/>
<circle cx="180.2" cy="334.5" r="1.3" fill="#fff" stroke="#2a2a2a" stroke-width="0.95"/>
<circle cx="182.6" cy="333.1" r="1.3" fill="#fff" stroke="#2a2a2a" stroke-width="0.95"/>
<circle cx="185.2" cy="334.2" r="1.3" fill="#fff" stroke="#2a2a2a" stroke-width="0.95"/>
<circle cx="190.7" cy="333.8" r="1.3" fill="#fff" stroke="#2a2a2a" stroke-width="0.95"/>
<circle cx="182.6" cy="339.6" r="1.3" fill="#fff" stroke="#2a2a2a" stroke-width="0.95"/>
<circle cx="187.8" cy="339.6" r="1.3" fill="#fff" stroke="#2a2a2a" stroke-width="0.95"/>
<circle cx="213.6" cy="266.6" r="1.7" fill="#111"/>
<circle cx="211.2" cy="286.1" r="1.7" fill="#111"/>
<circle cx="216.2" cy="287.1" r="1.7" fill="#111"/>
<circle cx="211.2" cy="292.6" r="1.7" fill="#111"/>
<circle cx="208.3" cy="294.8" r="1.7" fill="#111"/>
<circle cx="216.2" cy="294.8" r="1.7" fill="#111"/>
<circle cx="213.8" cy="296.2" r="1.7" fill="#111"/>
<circle cx="218.7" cy="296.2" r="1.7" fill="#111"/>
<circle cx="206.1" cy="298.1" r="1.7" fill="#111"/>
<circle cx="211.2" cy="299.2" r="1.7" fill="#111"/>
<circle cx="221.3" cy="299.2" r="1.7" fill="#111"/>
<circle cx="206.1" cy="304.9" r="1.7" fill="#111"/>
<circle cx="211.2" cy="304.2" r="1.7" fill="#111"/>
<circle cx="216.2" cy="302.8" r="1.7" fill="#111"/>
<circle cx="221.3" cy="304.9" r="1.7" fill="#111"/>
<circle cx="208.3" cy="307.4" r="1.7" fill="#111"/>
<circle cx="213.8" cy="307.8" r="1.7" fill="#111"/>
<circle cx="218.7" cy="307.4" r="1.7" fill="#111"/>
<circle cx="206.1" cy="311.4" r="1.7" fill="#111"/>
<circle cx="211.2" cy="312.6" r="1.7" fill="#111"/>
<circle cx="216.2" cy="311.4" r="1.7" fill="#111"/>
<circle cx="221.3" cy="312.6" r="1.7" fill="#111"/>
<circle cx="208.3" cy="315.5" r="1.7" fill="#111"/>
<circle cx="213.8" cy="315.5" r="1.7" fill="#111"/>
<circle cx="218.7" cy="315.5" r="1.7" fill="#111"/>
<circle cx="208.3" cy="318.6" r="1.7" fill="#111"/>
<circle cx="216.2" cy="318.6" r="1.7" fill="#111"/>
<circle cx="211.2" cy="321.5" r="1.7" fill="#111"/>
<circle cx="218.7" cy="320.1" r="1.7" fill="#111"/>
<circle cx="206.1" cy="324.4" r="1.7" fill="#111"/>
<circle cx="211.2" cy="324.1" r="1.7" fill="#111"/>
<circle cx="216.2" cy="324.7" r="1.7" fill="#111"/>
<circle cx="221.3" cy="323.7" r="1.7" fill="#111"/>
<circle cx="208.3" cy="327.3" r="1.7" fill="#111"/>
<circle cx="213.8" cy="327.3" r="1.7" fill="#111"/>
<circle cx="218.7" cy="327.3" r="1.7" fill="#111"/>
<circle cx="213.8" cy="332.4" r="1.7" fill="#111"/>
<circle cx="208.3" cy="336" r="1.7" fill="#111"/>
<circle cx="211.2" cy="334.5" r="1.7" fill="#111"/>
<circle cx="216.2" cy="334.2" r="1.7" fill="#111"/>
<circle cx="218.7" cy="334.8" r="1.7" fill="#111"/>
<circle cx="213.8" cy="337.6" r="1.7" fill="#111"/>
<circle cx="213.8" cy="348.7" r="1.7" fill="#111"/>
<circle cx="241.6" cy="294.1" r="1.3" fill="#fff" stroke="#2a2a2a" stroke-width="0.95"/>
<circle cx="246.7" cy="292.7" r="1.3" fill="#fff" stroke="#2a2a2a" stroke-width="0.95"/>
<circle cx="239.2" cy="298.2" r="1.3" fill="#fff" stroke="#2a2a2a" stroke-width="0.95"/>
<circle cx="244" cy="298.9" r="1.3" fill="#fff" stroke="#2a2a2a" stroke-width="0.95"/>
<circle cx="249.3" cy="296.9" r="1.3" fill="#fff" stroke="#2a2a2a" stroke-width="0.95"/>
<circle cx="236.6" cy="305.4" r="1.3" fill="#fff" stroke="#2a2a2a" stroke-width="0.95"/>
<circle cx="241.6" cy="307.4" r="1.3" fill="#fff" stroke="#2a2a2a" stroke-width="0.95"/>
<circle cx="246.7" cy="305.4" r="1.3" fill="#fff" stroke="#2a2a2a" stroke-width="0.95"/>
<circle cx="249.3" cy="308.3" r="1.3" fill="#fff" stroke="#2a2a2a" stroke-width="0.95"/>
<circle cx="251.7" cy="302.8" r="1.3" fill="#fff" stroke="#2a2a2a" stroke-width="0.95"/>
<circle cx="239.2" cy="312.2" r="1.3" fill="#fff" stroke="#2a2a2a" stroke-width="0.95"/>
<circle cx="244.1" cy="312.6" r="1.3" fill="#fff" stroke="#2a2a2a" stroke-width="0.95"/>
<circle cx="236.6" cy="316.5" r="1.3" fill="#fff" stroke="#2a2a2a" stroke-width="0.95"/>
<circle cx="241.6" cy="318.4" r="1.3" fill="#fff" stroke="#2a2a2a" stroke-width="0.95"/>
<circle cx="246.7" cy="317.2" r="1.3" fill="#fff" stroke="#2a2a2a" stroke-width="0.95"/>
<circle cx="251.7" cy="315.5" r="1.3" fill="#fff" stroke="#2a2a2a" stroke-width="0.95"/>
<circle cx="251.7" cy="319.4" r="1.3" fill="#fff" stroke="#2a2a2a" stroke-width="0.95"/>
<circle cx="236.6" cy="320.8" r="1.3" fill="#fff" stroke="#2a2a2a" stroke-width="0.95"/>
<circle cx="241.6" cy="322.3" r="1.3" fill="#fff" stroke="#2a2a2a" stroke-width="0.95"/>
<circle cx="246.7" cy="320.8" r="1.3" fill="#fff" stroke="#2a2a2a" stroke-width="0.95"/>
<circle cx="236.6" cy="325.2" r="1.3" fill="#fff" stroke="#2a2a2a" stroke-width="0.95"/>
<circle cx="239.2" cy="325.9" r="1.3" fill="#fff" stroke="#2a2a2a" stroke-width="0.95"/>
<circle cx="241.6" cy="324.4" r="1.3" fill="#fff" stroke="#2a2a2a" stroke-width="0.95"/>
<circle cx="244.1" cy="325.2" r="1.3" fill="#fff" stroke="#2a2a2a" stroke-width="0.95"/>
<circle cx="246.7" cy="323.7" r="1.3" fill="#fff" stroke="#2a2a2a" stroke-width="0.95"/>
<circle cx="249.3" cy="325.9" r="1.3" fill="#fff" stroke="#2a2a2a" stroke-width="0.95"/>
<circle cx="251.7" cy="325.2" r="1.3" fill="#fff" stroke="#2a2a2a" stroke-width="0.95"/>
<circle cx="236.6" cy="328.1" r="1.3" fill="#fff" stroke="#2a2a2a" stroke-width="0.95"/>
<circle cx="239.2" cy="329.5" r="1.3" fill="#fff" stroke="#2a2a2a" stroke-width="0.95"/>
<circle cx="244.1" cy="328.8" r="1.3" fill="#fff" stroke="#2a2a2a" stroke-width="0.95"/>
<circle cx="246.7" cy="328.1" r="1.3" fill="#fff" stroke="#2a2a2a" stroke-width="0.95"/>
<circle cx="249.3" cy="329.5" r="1.3" fill="#fff" stroke="#2a2a2a" stroke-width="0.95"/>
<circle cx="251.7" cy="328.1" r="1.3" fill="#fff" stroke="#2a2a2a" stroke-width="0.95"/>
<circle cx="236.6" cy="333.1" r="1.3" fill="#fff" stroke="#2a2a2a" stroke-width="0.95"/>
<circle cx="239.2" cy="334.3" r="1.3" fill="#fff" stroke="#2a2a2a" stroke-width="0.95"/>
<circle cx="241.6" cy="332.4" r="1.3" fill="#fff" stroke="#2a2a2a" stroke-width="0.95"/>
<circle cx="244.1" cy="334.3" r="1.3" fill="#fff" stroke="#2a2a2a" stroke-width="0.95"/>
<circle cx="246.7" cy="333.1" r="1.3" fill="#fff" stroke="#2a2a2a" stroke-width="0.95"/>
<circle cx="249.3" cy="333.8" r="1.3" fill="#fff" stroke="#2a2a2a" stroke-width="0.95"/>
<circle cx="251.7" cy="332.4" r="1.3" fill="#fff" stroke="#2a2a2a" stroke-width="0.95"/>
<circle cx="239.2" cy="337.4" r="1.3" fill="#fff" stroke="#2a2a2a" stroke-width="0.95"/>
<circle cx="244.1" cy="338.9" r="1.3" fill="#fff" stroke="#2a2a2a" stroke-width="0.95"/>
<circle cx="249.3" cy="339.2" r="1.3" fill="#fff" stroke="#2a2a2a" stroke-width="0.95"/>
<circle cx="274.8" cy="266.7" r="1.7" fill="#111"/>
<circle cx="274.8" cy="273.2" r="1.7" fill="#111"/>
<circle cx="272.4" cy="287.2" r="1.7" fill="#111"/>
<circle cx="277.3" cy="286.2" r="1.7" fill="#111"/>
<circle cx="267.2" cy="296.3" r="1.7" fill="#111"/>
<circle cx="272.4" cy="294.4" r="1.7" fill="#111"/>
<circle cx="277.3" cy="294.8" r="1.7" fill="#111"/>
<circle cx="282.5" cy="295.8" r="1.7" fill="#111"/>
<circle cx="272.4" cy="299.8" r="1.7" fill="#111"/>
<circle cx="277.3" cy="299.4" r="1.7" fill="#111"/>
<circle cx="267.6" cy="297.5" r="1.7" fill="#111"/>
<circle cx="267.6" cy="306.8" r="1.7" fill="#111"/>
<circle cx="272.7" cy="304.9" r="1.7" fill="#111"/>
<circle cx="272.7" cy="307.8" r="1.7" fill="#111"/>
<circle cx="277.3" cy="305.7" r="1.7" fill="#111"/>
<circle cx="282.5" cy="307.8" r="1.7" fill="#111"/>
<circle cx="277.3" cy="312.9" r="1.7" fill="#111"/>
<circle cx="272.7" cy="315.8" r="1.7" fill="#111"/>
<circle cx="267.6" cy="317.5" r="1.7" fill="#111"/>
<circle cx="272.7" cy="319.4" r="1.7" fill="#111"/>
<circle cx="277.3" cy="320.8" r="1.7" fill="#111"/>
<circle cx="282.5" cy="319" r="1.7" fill="#111"/>
<circle cx="267.6" cy="324.4" r="1.7" fill="#111"/>
<circle cx="272.7" cy="327.3" r="1.7" fill="#111"/>
<circle cx="277.3" cy="326.2" r="1.7" fill="#111"/>
<circle cx="282.5" cy="324.2" r="1.7" fill="#111"/>
<circle cx="270.1" cy="331.7" r="1.7" fill="#111"/>
<circle cx="274.8" cy="333.8" r="1.7" fill="#111"/>
<circle cx="279.9" cy="331.7" r="1.7" fill="#111"/>
<circle cx="274.8" cy="348.7" r="1.7" fill="#111"/>
<text x="302.3" y="240.7" font-size="12" text-anchor="start" font-weight="bold" fill="#111" stroke="#111" stroke-width="0.25">D</text>
<text x="321.4" y="299.7" font-size="8.55" text-anchor="middle" fill="#222" transform="rotate(-90 321.4 299.7)" stroke="#222" stroke-width="0.2">SOCS3 expression [MFI]</text>
<line x1="344.6" y1="253" x2="344.6" y2="350.7" stroke="#333" stroke-width="1.2"/>
<line x1="344" y1="350.3" x2="382" y2="350.3" stroke="#222" stroke-width="1.2"/>
<text x="340.4" y="351.6" font-size="8.4" text-anchor="end" fill="#222" stroke="#222" stroke-width="0.2">0</text>
<line x1="341.8" y1="330.84" x2="344.6" y2="330.84" stroke="#333" stroke-width="1"/>
<text x="342" y="333.74" font-size="8.4" text-anchor="end" fill="#222" stroke="#222" stroke-width="0.2">100</text>
<line x1="341.8" y1="311.38" x2="344.6" y2="311.38" stroke="#333" stroke-width="1"/>
<text x="342" y="314.28" font-size="8.4" text-anchor="end" fill="#222" stroke="#222" stroke-width="0.2">200</text>
<line x1="341.8" y1="291.92" x2="344.6" y2="291.92" stroke="#333" stroke-width="1"/>
<text x="342" y="294.82" font-size="8.4" text-anchor="end" fill="#222" stroke="#222" stroke-width="0.2">300</text>
<line x1="341.8" y1="272.46" x2="344.6" y2="272.46" stroke="#333" stroke-width="1"/>
<text x="342" y="275.36" font-size="8.4" text-anchor="end" fill="#222" stroke="#222" stroke-width="0.2">400</text>
<line x1="341.8" y1="253" x2="344.6" y2="253" stroke="#333" stroke-width="1"/>
<text x="342" y="255.9" font-size="8.4" text-anchor="end" fill="#222" stroke="#222" stroke-width="0.2">500</text>
<line x1="354.7" y1="279.08" x2="354.7" y2="281.8" stroke="#1e1e1e" stroke-width="1.2"/>
<line x1="351.7" y1="279.08" x2="357.7" y2="279.08" stroke="#1e1e1e" stroke-width="1.2"/>
<rect x="348.4" y="281.8" width="12.6" height="68.5" fill="#262626" stroke="none" stroke-width="1"/>
<line x1="373.35" y1="261.76" x2="373.35" y2="265.84" stroke="#1e1e1e" stroke-width="1.2"/>
<line x1="370.35" y1="261.76" x2="376.35" y2="261.76" stroke="#1e1e1e" stroke-width="1.2"/>
<rect x="366.9" y="265.84" width="12.9" height="84.46" fill="#262626" stroke="none" stroke-width="1"/>
<line x1="355" y1="350.3" x2="355" y2="352.5" stroke="#333" stroke-width="0.9"/>
<line x1="373.4" y1="350.3" x2="373.4" y2="352.5" stroke="#333" stroke-width="0.9"/>
<line x1="353.5" y1="258" x2="374.2" y2="258" stroke="#1e1e1e" stroke-width="1.4"/>
<text x="364" y="257" font-size="9.5" text-anchor="middle" fill="#1a1a1a" stroke="#111" stroke-width="0.3">*</text>
<text x="355" y="360.6" font-size="8.6" text-anchor="middle" fill="#222" stroke="#222" stroke-width="0.2">low</text>
<text x="373.2" y="360.6" font-size="8.6" text-anchor="middle" fill="#222" stroke="#222" stroke-width="0.2">high</text>
<text x="365.2" y="373.3" font-size="10" text-anchor="middle" fill="#222" stroke="#222" stroke-width="0.2">CD161</text>
<line x1="410.6" y1="256.3" x2="410.6" y2="350" stroke="#333" stroke-width="1.2"/>
<line x1="410" y1="349.6" x2="447.7" y2="349.6" stroke="#222" stroke-width="1.2"/>
<text x="406.4" y="350.9" font-size="8.4" text-anchor="end" fill="#222" stroke="#222" stroke-width="0.2">0</text>
<line x1="407.8" y1="330.94" x2="410.6" y2="330.94" stroke="#333" stroke-width="1"/>
<text x="408" y="333.84" font-size="8.4" text-anchor="end" fill="#222" stroke="#222" stroke-width="0.2">100</text>
<line x1="407.8" y1="312.28" x2="410.6" y2="312.28" stroke="#333" stroke-width="1"/>
<text x="408" y="315.18" font-size="8.4" text-anchor="end" fill="#222" stroke="#222" stroke-width="0.2">200</text>
<line x1="407.8" y1="293.62" x2="410.6" y2="293.62" stroke="#333" stroke-width="1"/>
<text x="408" y="296.52" font-size="8.4" text-anchor="end" fill="#222" stroke="#222" stroke-width="0.2">300</text>
<line x1="407.8" y1="274.96" x2="410.6" y2="274.96" stroke="#333" stroke-width="1"/>
<text x="408" y="277.86" font-size="8.4" text-anchor="end" fill="#222" stroke="#222" stroke-width="0.2">400</text>
<line x1="407.8" y1="256.3" x2="410.6" y2="256.3" stroke="#333" stroke-width="1"/>
<text x="408" y="259.2" font-size="8.4" text-anchor="end" fill="#222" stroke="#222" stroke-width="0.2">500</text>
<rect x="413.8" y="315.45" width="12.7" height="34.15" fill="#262626" stroke="none" stroke-width="1"/>
<line x1="438.45" y1="305.38" x2="438.45" y2="306.12" stroke="#1e1e1e" stroke-width="1.2"/>
<line x1="435.45" y1="305.38" x2="441.45" y2="305.38" stroke="#1e1e1e" stroke-width="1.2"/>
<rect x="432" y="306.12" width="12.9" height="43.48" fill="#262626" stroke="none" stroke-width="1"/>
<line x1="420" y1="349.6" x2="420" y2="351.8" stroke="#333" stroke-width="0.9"/>
<line x1="438.5" y1="349.6" x2="438.5" y2="351.8" stroke="#333" stroke-width="0.9"/>
<line x1="418.8" y1="297.1" x2="439.8" y2="297.1" stroke="#1e1e1e" stroke-width="1.4"/>
<text x="430.3" y="293.1" font-size="8.5" text-anchor="middle" fill="#1a1a1a" stroke="#1a1a1a" stroke-width="0.2">p = 0.069</text>
<text x="420.6" y="360.6" font-size="8.6" text-anchor="middle" fill="#222" stroke="#222" stroke-width="0.2">low</text>
<text x="439.4" y="360.6" font-size="8.6" text-anchor="middle" fill="#222" stroke="#222" stroke-width="0.2">high</text>
<text x="430.9" y="373.3" font-size="10" text-anchor="middle" fill="#222" stroke="#222" stroke-width="0.2">CRTH2</text>
<line x1="475.4" y1="254.7" x2="475.4" y2="350.2" stroke="#333" stroke-width="1.2"/>
<line x1="474.8" y1="349.8" x2="513.4" y2="349.8" stroke="#222" stroke-width="1.2"/>
<text x="471.2" y="351.1" font-size="8.4" text-anchor="end" fill="#222" stroke="#222" stroke-width="0.2">0</text>
<line x1="472.6" y1="330.78" x2="475.4" y2="330.78" stroke="#333" stroke-width="1"/>
<text x="472.8" y="333.68" font-size="8.4" text-anchor="end" fill="#222" stroke="#222" stroke-width="0.2">100</text>
<line x1="472.6" y1="311.76" x2="475.4" y2="311.76" stroke="#333" stroke-width="1"/>
<text x="472.8" y="314.66" font-size="8.4" text-anchor="end" fill="#222" stroke="#222" stroke-width="0.2">200</text>
<line x1="472.6" y1="292.74" x2="475.4" y2="292.74" stroke="#333" stroke-width="1"/>
<text x="472.8" y="295.64" font-size="8.4" text-anchor="end" fill="#222" stroke="#222" stroke-width="0.2">300</text>
<line x1="472.6" y1="273.72" x2="475.4" y2="273.72" stroke="#333" stroke-width="1"/>
<text x="472.8" y="276.62" font-size="8.4" text-anchor="end" fill="#222" stroke="#222" stroke-width="0.2">400</text>
<line x1="472.6" y1="254.7" x2="475.4" y2="254.7" stroke="#333" stroke-width="1"/>
<text x="472.8" y="257.6" font-size="8.4" text-anchor="end" fill="#222" stroke="#222" stroke-width="0.2">500</text>
<line x1="485.1" y1="289.32" x2="485.1" y2="292.17" stroke="#1e1e1e" stroke-width="1.2"/>
<line x1="482.1" y1="289.32" x2="488.1" y2="289.32" stroke="#1e1e1e" stroke-width="1.2"/>
<rect x="478.6" y="292.17" width="13" height="57.63" fill="#262626" stroke="none" stroke-width="1"/>
<line x1="503.7" y1="296.35" x2="503.7" y2="298.45" stroke="#1e1e1e" stroke-width="1.2"/>
<line x1="500.7" y1="296.35" x2="506.7" y2="296.35" stroke="#1e1e1e" stroke-width="1.2"/>
<rect x="497.1" y="298.45" width="13.2" height="51.35" fill="#262626" stroke="none" stroke-width="1"/>
<line x1="485.3" y1="349.8" x2="485.3" y2="352" stroke="#333" stroke-width="0.9"/>
<line x1="503.8" y1="349.8" x2="503.8" y2="352" stroke="#333" stroke-width="0.9"/>
<line x1="485.2" y1="282.3" x2="505.7" y2="282.3" stroke="#1e1e1e" stroke-width="1.4"/>
<text x="496.1" y="277.9" font-size="9.0" text-anchor="middle" fill="#1a1a1a" stroke="#1a1a1a" stroke-width="0.2">ns</text>
<text x="485.7" y="360.6" font-size="8.6" text-anchor="middle" fill="#222" stroke="#222" stroke-width="0.2">low</text>
<text x="504" y="360.6" font-size="8.6" text-anchor="middle" fill="#222" stroke="#222" stroke-width="0.2">high</text>
<text x="494.8" y="373.3" font-size="10" text-anchor="middle" fill="#222" stroke="#222" stroke-width="0.2">CD45RA</text>
</svg>
</body></html>
